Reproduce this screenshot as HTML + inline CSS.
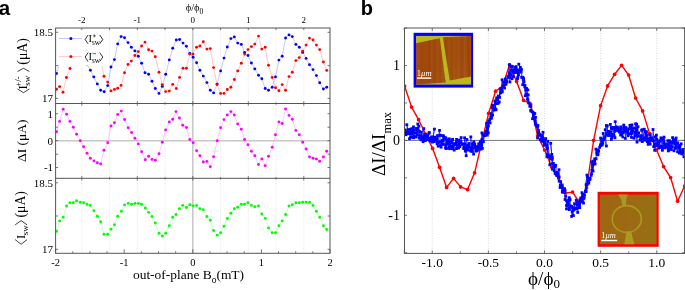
<!DOCTYPE html><html><head><meta charset="utf-8"><style>html,body{margin:0;padding:0;background:#fff;width:685px;height:290px;overflow:hidden}</style></head><body><svg width="685" height="290" viewBox="0 0 685 290" style="display:block;will-change:transform"><rect width="685" height="290" fill="#fff"/><text x="-1.3" y="14.8" style="font-family:'Liberation Sans',sans-serif;font-weight:bold;font-size:20.5px" fill="#000">a</text><text x="360.8" y="14.6" style="font-family:'Liberation Sans',sans-serif;font-weight:bold;font-size:20px" fill="#000">b</text><line x1="81.80000000000001" y1="28.0" x2="81.80000000000001" y2="253.3" stroke="#d4d4d4" stroke-width="0.6" stroke-dasharray="1,1.5"/><line x1="109.55000000000001" y1="28.0" x2="109.55000000000001" y2="253.3" stroke="#d4d4d4" stroke-width="0.6" stroke-dasharray="1,1.5"/><line x1="137.3" y1="28.0" x2="137.3" y2="253.3" stroke="#d4d4d4" stroke-width="0.6" stroke-dasharray="1,1.5"/><line x1="165.05" y1="28.0" x2="165.05" y2="253.3" stroke="#d4d4d4" stroke-width="0.6" stroke-dasharray="1,1.5"/><line x1="192.8" y1="28.0" x2="192.8" y2="253.3" stroke="#c8c8c8" stroke-width="1.6"/><line x1="220.55" y1="28.0" x2="220.55" y2="253.3" stroke="#d4d4d4" stroke-width="0.6" stroke-dasharray="1,1.5"/><line x1="248.3" y1="28.0" x2="248.3" y2="253.3" stroke="#d4d4d4" stroke-width="0.6" stroke-dasharray="1,1.5"/><line x1="276.05" y1="28.0" x2="276.05" y2="253.3" stroke="#d4d4d4" stroke-width="0.6" stroke-dasharray="1,1.5"/><line x1="303.8" y1="28.0" x2="303.8" y2="253.3" stroke="#d4d4d4" stroke-width="0.6" stroke-dasharray="1,1.5"/><line x1="55.6" y1="140.7" x2="330.0" y2="140.7" stroke="#c8c8c8" stroke-width="1.5"/><polyline points="56.5,73.5 59.9,62.4 63.3,50.4 66.7,40.4 70.1,37.4 73.5,40.4 76.9,46.4 80.3,52.4 83.7,58.4 87.1,64.3 90.4,70.2 93.8,76.9 97.3,83.9 100.7,90.3 104.2,91.8 107.7,85.6 111.0,67.0 114.4,59.6 117.7,43.9 121.1,36.6 124.5,37.8 128.0,42.6 131.3,47.2 134.9,50.9 138.3,56.2 141.6,63.2 145.0,72.8 148.6,74.3 152.0,81.3 155.3,88.5 159.0,93.4 162.3,86.4 165.7,74.3 169.3,59.9 172.7,48.2 176.3,40.0 179.6,39.5 183.0,43.1 186.4,46.2 189.8,53.5 193.1,57.2 196.6,62.8 199.9,70.2 203.3,76.1 206.9,82.6 210.3,90.3 213.6,92.9 217.1,84.1 220.6,70.9 224.0,58.1 227.3,47.0 230.9,38.6 234.3,36.9 237.7,43.1 241.3,44.4 244.6,52.4 248.0,55.5 251.4,63.0 254.8,68.9 258.5,75.3 261.8,78.8 265.2,88.5 268.5,90.3 272.2,87.2 275.5,76.9 278.9,60.1 282.2,56.2 285.6,38.0 289.0,34.9 292.3,36.6 295.9,44.4 299.3,47.2 302.7,52.4 306.1,58.4 309.5,64.8 313.0,69.6 316.4,75.6 319.7,82.8 323.4,89.0 326.7,87.2" fill="none" stroke="#9090ff" stroke-width="0.5" stroke-linejoin="round"/><polyline points="56.5,89.2 59.6,86.6 63.0,92.3 66.4,77.5 70.0,68.5 73.5,60.4 76.9,52.4 80.3,47.4 83.7,44.4 87.1,42.4 90.5,46.4 93.9,48.4 97.3,52.4 100.7,60.4 104.0,76.3 107.7,82.1 111.0,90.9 114.4,89.4 117.7,88.3 121.1,85.4 124.5,72.8 128.0,64.5 131.3,61.1 134.9,55.5 138.3,51.6 141.6,46.0 145.0,42.1 148.6,49.8 152.0,51.1 155.3,56.8 159.0,72.2 162.3,84.6 165.7,91.6 169.3,91.1 172.7,84.4 176.3,88.5 179.6,77.4 183.0,68.3 186.4,68.3 189.8,54.1 193.0,54.1 196.6,47.2 199.9,46.0 203.3,41.8 206.9,49.1 210.3,48.6 213.6,67.6 217.0,84.6 220.6,93.4 224.0,93.4 227.3,89.5 230.9,87.2 234.3,79.5 237.7,70.9 241.3,63.2 244.6,54.1 248.0,49.6 251.4,46.6 254.8,44.1 258.5,36.1 261.8,49.1 265.2,47.2 268.5,65.3 272.2,77.4 275.5,87.8 278.9,90.8 282.2,84.6 285.6,90.3 289.0,76.6 292.3,72.2 295.9,60.6 299.3,57.6 302.7,51.1 306.1,45.1 309.5,38.1 313.0,40.0 316.4,45.1 319.7,49.6 323.4,62.0 326.7,70.4" fill="none" stroke="#ff9090" stroke-width="0.5" stroke-linejoin="round"/><circle cx="56.5" cy="73.5" r="1.45" fill="#0000ff"/><circle cx="59.9" cy="62.4" r="1.45" fill="#0000ff"/><circle cx="63.3" cy="50.4" r="1.45" fill="#0000ff"/><circle cx="66.7" cy="40.4" r="1.45" fill="#0000ff"/><circle cx="70.1" cy="37.4" r="1.45" fill="#0000ff"/><circle cx="73.5" cy="40.4" r="1.45" fill="#0000ff"/><circle cx="76.9" cy="46.4" r="1.45" fill="#0000ff"/><circle cx="80.3" cy="52.4" r="1.45" fill="#0000ff"/><circle cx="83.7" cy="58.4" r="1.45" fill="#0000ff"/><circle cx="87.1" cy="64.3" r="1.45" fill="#0000ff"/><circle cx="90.4" cy="70.2" r="1.45" fill="#0000ff"/><circle cx="93.8" cy="76.9" r="1.45" fill="#0000ff"/><circle cx="97.3" cy="83.9" r="1.45" fill="#0000ff"/><circle cx="100.7" cy="90.3" r="1.45" fill="#0000ff"/><circle cx="104.2" cy="91.8" r="1.45" fill="#0000ff"/><circle cx="107.7" cy="85.6" r="1.45" fill="#0000ff"/><circle cx="111.0" cy="67.0" r="1.45" fill="#0000ff"/><circle cx="114.4" cy="59.6" r="1.45" fill="#0000ff"/><circle cx="117.7" cy="43.9" r="1.45" fill="#0000ff"/><circle cx="121.1" cy="36.6" r="1.45" fill="#0000ff"/><circle cx="124.5" cy="37.8" r="1.45" fill="#0000ff"/><circle cx="128.0" cy="42.6" r="1.45" fill="#0000ff"/><circle cx="131.3" cy="47.2" r="1.45" fill="#0000ff"/><circle cx="134.9" cy="50.9" r="1.45" fill="#0000ff"/><circle cx="138.3" cy="56.2" r="1.45" fill="#0000ff"/><circle cx="141.6" cy="63.2" r="1.45" fill="#0000ff"/><circle cx="145.0" cy="72.8" r="1.45" fill="#0000ff"/><circle cx="148.6" cy="74.3" r="1.45" fill="#0000ff"/><circle cx="152.0" cy="81.3" r="1.45" fill="#0000ff"/><circle cx="155.3" cy="88.5" r="1.45" fill="#0000ff"/><circle cx="159.0" cy="93.4" r="1.45" fill="#0000ff"/><circle cx="162.3" cy="86.4" r="1.45" fill="#0000ff"/><circle cx="165.7" cy="74.3" r="1.45" fill="#0000ff"/><circle cx="169.3" cy="59.9" r="1.45" fill="#0000ff"/><circle cx="172.7" cy="48.2" r="1.45" fill="#0000ff"/><circle cx="176.3" cy="40.0" r="1.45" fill="#0000ff"/><circle cx="179.6" cy="39.5" r="1.45" fill="#0000ff"/><circle cx="183.0" cy="43.1" r="1.45" fill="#0000ff"/><circle cx="186.4" cy="46.2" r="1.45" fill="#0000ff"/><circle cx="189.8" cy="53.5" r="1.45" fill="#0000ff"/><circle cx="193.1" cy="57.2" r="1.45" fill="#0000ff"/><circle cx="196.6" cy="62.8" r="1.45" fill="#0000ff"/><circle cx="199.9" cy="70.2" r="1.45" fill="#0000ff"/><circle cx="203.3" cy="76.1" r="1.45" fill="#0000ff"/><circle cx="206.9" cy="82.6" r="1.45" fill="#0000ff"/><circle cx="210.3" cy="90.3" r="1.45" fill="#0000ff"/><circle cx="213.6" cy="92.9" r="1.45" fill="#0000ff"/><circle cx="217.1" cy="84.1" r="1.45" fill="#0000ff"/><circle cx="220.6" cy="70.9" r="1.45" fill="#0000ff"/><circle cx="224.0" cy="58.1" r="1.45" fill="#0000ff"/><circle cx="227.3" cy="47.0" r="1.45" fill="#0000ff"/><circle cx="230.9" cy="38.6" r="1.45" fill="#0000ff"/><circle cx="234.3" cy="36.9" r="1.45" fill="#0000ff"/><circle cx="237.7" cy="43.1" r="1.45" fill="#0000ff"/><circle cx="241.3" cy="44.4" r="1.45" fill="#0000ff"/><circle cx="244.6" cy="52.4" r="1.45" fill="#0000ff"/><circle cx="248.0" cy="55.5" r="1.45" fill="#0000ff"/><circle cx="251.4" cy="63.0" r="1.45" fill="#0000ff"/><circle cx="254.8" cy="68.9" r="1.45" fill="#0000ff"/><circle cx="258.5" cy="75.3" r="1.45" fill="#0000ff"/><circle cx="261.8" cy="78.8" r="1.45" fill="#0000ff"/><circle cx="265.2" cy="88.5" r="1.45" fill="#0000ff"/><circle cx="268.5" cy="90.3" r="1.45" fill="#0000ff"/><circle cx="272.2" cy="87.2" r="1.45" fill="#0000ff"/><circle cx="275.5" cy="76.9" r="1.45" fill="#0000ff"/><circle cx="278.9" cy="60.1" r="1.45" fill="#0000ff"/><circle cx="282.2" cy="56.2" r="1.45" fill="#0000ff"/><circle cx="285.6" cy="38.0" r="1.45" fill="#0000ff"/><circle cx="289.0" cy="34.9" r="1.45" fill="#0000ff"/><circle cx="292.3" cy="36.6" r="1.45" fill="#0000ff"/><circle cx="295.9" cy="44.4" r="1.45" fill="#0000ff"/><circle cx="299.3" cy="47.2" r="1.45" fill="#0000ff"/><circle cx="302.7" cy="52.4" r="1.45" fill="#0000ff"/><circle cx="306.1" cy="58.4" r="1.45" fill="#0000ff"/><circle cx="309.5" cy="64.8" r="1.45" fill="#0000ff"/><circle cx="313.0" cy="69.6" r="1.45" fill="#0000ff"/><circle cx="316.4" cy="75.6" r="1.45" fill="#0000ff"/><circle cx="319.7" cy="82.8" r="1.45" fill="#0000ff"/><circle cx="323.4" cy="89.0" r="1.45" fill="#0000ff"/><circle cx="326.7" cy="87.2" r="1.45" fill="#0000ff"/><circle cx="56.5" cy="89.2" r="1.45" fill="#ff0000"/><circle cx="59.6" cy="86.6" r="1.45" fill="#ff0000"/><circle cx="63.0" cy="92.3" r="1.45" fill="#ff0000"/><circle cx="66.4" cy="77.5" r="1.45" fill="#ff0000"/><circle cx="70.0" cy="68.5" r="1.45" fill="#ff0000"/><circle cx="73.5" cy="60.4" r="1.45" fill="#ff0000"/><circle cx="76.9" cy="52.4" r="1.45" fill="#ff0000"/><circle cx="80.3" cy="47.4" r="1.45" fill="#ff0000"/><circle cx="83.7" cy="44.4" r="1.45" fill="#ff0000"/><circle cx="87.1" cy="42.4" r="1.45" fill="#ff0000"/><circle cx="90.5" cy="46.4" r="1.45" fill="#ff0000"/><circle cx="93.9" cy="48.4" r="1.45" fill="#ff0000"/><circle cx="97.3" cy="52.4" r="1.45" fill="#ff0000"/><circle cx="100.7" cy="60.4" r="1.45" fill="#ff0000"/><circle cx="104.0" cy="76.3" r="1.45" fill="#ff0000"/><circle cx="107.7" cy="82.1" r="1.45" fill="#ff0000"/><circle cx="111.0" cy="90.9" r="1.45" fill="#ff0000"/><circle cx="114.4" cy="89.4" r="1.45" fill="#ff0000"/><circle cx="117.7" cy="88.3" r="1.45" fill="#ff0000"/><circle cx="121.1" cy="85.4" r="1.45" fill="#ff0000"/><circle cx="124.5" cy="72.8" r="1.45" fill="#ff0000"/><circle cx="128.0" cy="64.5" r="1.45" fill="#ff0000"/><circle cx="131.3" cy="61.1" r="1.45" fill="#ff0000"/><circle cx="134.9" cy="55.5" r="1.45" fill="#ff0000"/><circle cx="138.3" cy="51.6" r="1.45" fill="#ff0000"/><circle cx="141.6" cy="46.0" r="1.45" fill="#ff0000"/><circle cx="145.0" cy="42.1" r="1.45" fill="#ff0000"/><circle cx="148.6" cy="49.8" r="1.45" fill="#ff0000"/><circle cx="152.0" cy="51.1" r="1.45" fill="#ff0000"/><circle cx="155.3" cy="56.8" r="1.45" fill="#ff0000"/><circle cx="159.0" cy="72.2" r="1.45" fill="#ff0000"/><circle cx="162.3" cy="84.6" r="1.45" fill="#ff0000"/><circle cx="165.7" cy="91.6" r="1.45" fill="#ff0000"/><circle cx="169.3" cy="91.1" r="1.45" fill="#ff0000"/><circle cx="172.7" cy="84.4" r="1.45" fill="#ff0000"/><circle cx="176.3" cy="88.5" r="1.45" fill="#ff0000"/><circle cx="179.6" cy="77.4" r="1.45" fill="#ff0000"/><circle cx="183.0" cy="68.3" r="1.45" fill="#ff0000"/><circle cx="186.4" cy="68.3" r="1.45" fill="#ff0000"/><circle cx="189.8" cy="54.1" r="1.45" fill="#ff0000"/><circle cx="193.0" cy="54.1" r="1.45" fill="#ff0000"/><circle cx="196.6" cy="47.2" r="1.45" fill="#ff0000"/><circle cx="199.9" cy="46.0" r="1.45" fill="#ff0000"/><circle cx="203.3" cy="41.8" r="1.45" fill="#ff0000"/><circle cx="206.9" cy="49.1" r="1.45" fill="#ff0000"/><circle cx="210.3" cy="48.6" r="1.45" fill="#ff0000"/><circle cx="213.6" cy="67.6" r="1.45" fill="#ff0000"/><circle cx="217.0" cy="84.6" r="1.45" fill="#ff0000"/><circle cx="220.6" cy="93.4" r="1.45" fill="#ff0000"/><circle cx="224.0" cy="93.4" r="1.45" fill="#ff0000"/><circle cx="227.3" cy="89.5" r="1.45" fill="#ff0000"/><circle cx="230.9" cy="87.2" r="1.45" fill="#ff0000"/><circle cx="234.3" cy="79.5" r="1.45" fill="#ff0000"/><circle cx="237.7" cy="70.9" r="1.45" fill="#ff0000"/><circle cx="241.3" cy="63.2" r="1.45" fill="#ff0000"/><circle cx="244.6" cy="54.1" r="1.45" fill="#ff0000"/><circle cx="248.0" cy="49.6" r="1.45" fill="#ff0000"/><circle cx="251.4" cy="46.6" r="1.45" fill="#ff0000"/><circle cx="254.8" cy="44.1" r="1.45" fill="#ff0000"/><circle cx="258.5" cy="36.1" r="1.45" fill="#ff0000"/><circle cx="261.8" cy="49.1" r="1.45" fill="#ff0000"/><circle cx="265.2" cy="47.2" r="1.45" fill="#ff0000"/><circle cx="268.5" cy="65.3" r="1.45" fill="#ff0000"/><circle cx="272.2" cy="77.4" r="1.45" fill="#ff0000"/><circle cx="275.5" cy="87.8" r="1.45" fill="#ff0000"/><circle cx="278.9" cy="90.8" r="1.45" fill="#ff0000"/><circle cx="282.2" cy="84.6" r="1.45" fill="#ff0000"/><circle cx="285.6" cy="90.3" r="1.45" fill="#ff0000"/><circle cx="289.0" cy="76.6" r="1.45" fill="#ff0000"/><circle cx="292.3" cy="72.2" r="1.45" fill="#ff0000"/><circle cx="295.9" cy="60.6" r="1.45" fill="#ff0000"/><circle cx="299.3" cy="57.6" r="1.45" fill="#ff0000"/><circle cx="302.7" cy="51.1" r="1.45" fill="#ff0000"/><circle cx="306.1" cy="45.1" r="1.45" fill="#ff0000"/><circle cx="309.5" cy="38.1" r="1.45" fill="#ff0000"/><circle cx="313.0" cy="40.0" r="1.45" fill="#ff0000"/><circle cx="316.4" cy="45.1" r="1.45" fill="#ff0000"/><circle cx="319.7" cy="49.6" r="1.45" fill="#ff0000"/><circle cx="323.4" cy="62.0" r="1.45" fill="#ff0000"/><circle cx="326.7" cy="70.4" r="1.45" fill="#ff0000"/><polyline points="56.5,131.8 59.6,121.4 63.2,109.2 66.6,114.2 69.9,121.4 73.3,127.3 76.6,134.3 80.3,140.8 83.6,146.8 87.0,153.2 90.3,158.3 94.0,160.9 97.3,162.8 100.7,164.0 104.0,150.3 107.7,142.7 111.0,126.0 114.4,122.8 117.7,114.4 121.3,111.1 124.6,119.5 128.2,127.8 131.6,132.5 134.9,138.2 138.3,143.9 141.6,151.7 145.3,159.7 148.6,156.3 152.0,159.4 155.3,160.2 159.0,153.8 162.3,142.2 165.7,129.9 169.3,121.9 172.7,119.3 176.0,111.6 179.4,118.0 182.7,125.3 186.4,127.5 189.8,139.5 193.2,142.8 196.6,150.7 199.9,155.8 203.3,162.0 206.9,161.4 210.3,166.7 213.6,156.8 217.2,140.8 220.6,127.8 224.0,119.6 227.3,114.9 230.9,111.6 234.3,114.9 237.7,124.0 241.3,129.2 244.6,139.5 248.0,144.7 251.4,151.2 254.8,155.8 258.5,164.5 261.8,158.9 265.2,165.8 268.5,156.3 272.2,147.2 275.5,134.8 278.9,121.9 282.2,123.5 285.6,109.0 289.0,115.4 292.3,119.3 295.9,130.4 299.3,134.8 302.7,142.2 306.1,149.0 309.5,157.0 313.0,158.3 316.4,158.9 319.7,161.2 323.4,157.0 326.7,151.2" fill="none" stroke="#ff90ff" stroke-width="0.5" stroke-linejoin="round"/><circle cx="56.5" cy="131.8" r="1.45" fill="#ff00ff"/><circle cx="59.6" cy="121.4" r="1.45" fill="#ff00ff"/><circle cx="63.2" cy="109.2" r="1.45" fill="#ff00ff"/><circle cx="66.6" cy="114.2" r="1.45" fill="#ff00ff"/><circle cx="69.9" cy="121.4" r="1.45" fill="#ff00ff"/><circle cx="73.3" cy="127.3" r="1.45" fill="#ff00ff"/><circle cx="76.6" cy="134.3" r="1.45" fill="#ff00ff"/><circle cx="80.3" cy="140.8" r="1.45" fill="#ff00ff"/><circle cx="83.6" cy="146.8" r="1.45" fill="#ff00ff"/><circle cx="87.0" cy="153.2" r="1.45" fill="#ff00ff"/><circle cx="90.3" cy="158.3" r="1.45" fill="#ff00ff"/><circle cx="94.0" cy="160.9" r="1.45" fill="#ff00ff"/><circle cx="97.3" cy="162.8" r="1.45" fill="#ff00ff"/><circle cx="100.7" cy="164.0" r="1.45" fill="#ff00ff"/><circle cx="104.0" cy="150.3" r="1.45" fill="#ff00ff"/><circle cx="107.7" cy="142.7" r="1.45" fill="#ff00ff"/><circle cx="111.0" cy="126.0" r="1.45" fill="#ff00ff"/><circle cx="114.4" cy="122.8" r="1.45" fill="#ff00ff"/><circle cx="117.7" cy="114.4" r="1.45" fill="#ff00ff"/><circle cx="121.3" cy="111.1" r="1.45" fill="#ff00ff"/><circle cx="124.6" cy="119.5" r="1.45" fill="#ff00ff"/><circle cx="128.2" cy="127.8" r="1.45" fill="#ff00ff"/><circle cx="131.6" cy="132.5" r="1.45" fill="#ff00ff"/><circle cx="134.9" cy="138.2" r="1.45" fill="#ff00ff"/><circle cx="138.3" cy="143.9" r="1.45" fill="#ff00ff"/><circle cx="141.6" cy="151.7" r="1.45" fill="#ff00ff"/><circle cx="145.3" cy="159.7" r="1.45" fill="#ff00ff"/><circle cx="148.6" cy="156.3" r="1.45" fill="#ff00ff"/><circle cx="152.0" cy="159.4" r="1.45" fill="#ff00ff"/><circle cx="155.3" cy="160.2" r="1.45" fill="#ff00ff"/><circle cx="159.0" cy="153.8" r="1.45" fill="#ff00ff"/><circle cx="162.3" cy="142.2" r="1.45" fill="#ff00ff"/><circle cx="165.7" cy="129.9" r="1.45" fill="#ff00ff"/><circle cx="169.3" cy="121.9" r="1.45" fill="#ff00ff"/><circle cx="172.7" cy="119.3" r="1.45" fill="#ff00ff"/><circle cx="176.0" cy="111.6" r="1.45" fill="#ff00ff"/><circle cx="179.4" cy="118.0" r="1.45" fill="#ff00ff"/><circle cx="182.7" cy="125.3" r="1.45" fill="#ff00ff"/><circle cx="186.4" cy="127.5" r="1.45" fill="#ff00ff"/><circle cx="189.8" cy="139.5" r="1.45" fill="#ff00ff"/><circle cx="193.2" cy="142.8" r="1.45" fill="#ff00ff"/><circle cx="196.6" cy="150.7" r="1.45" fill="#ff00ff"/><circle cx="199.9" cy="155.8" r="1.45" fill="#ff00ff"/><circle cx="203.3" cy="162.0" r="1.45" fill="#ff00ff"/><circle cx="206.9" cy="161.4" r="1.45" fill="#ff00ff"/><circle cx="210.3" cy="166.7" r="1.45" fill="#ff00ff"/><circle cx="213.6" cy="156.8" r="1.45" fill="#ff00ff"/><circle cx="217.2" cy="140.8" r="1.45" fill="#ff00ff"/><circle cx="220.6" cy="127.8" r="1.45" fill="#ff00ff"/><circle cx="224.0" cy="119.6" r="1.45" fill="#ff00ff"/><circle cx="227.3" cy="114.9" r="1.45" fill="#ff00ff"/><circle cx="230.9" cy="111.6" r="1.45" fill="#ff00ff"/><circle cx="234.3" cy="114.9" r="1.45" fill="#ff00ff"/><circle cx="237.7" cy="124.0" r="1.45" fill="#ff00ff"/><circle cx="241.3" cy="129.2" r="1.45" fill="#ff00ff"/><circle cx="244.6" cy="139.5" r="1.45" fill="#ff00ff"/><circle cx="248.0" cy="144.7" r="1.45" fill="#ff00ff"/><circle cx="251.4" cy="151.2" r="1.45" fill="#ff00ff"/><circle cx="254.8" cy="155.8" r="1.45" fill="#ff00ff"/><circle cx="258.5" cy="164.5" r="1.45" fill="#ff00ff"/><circle cx="261.8" cy="158.9" r="1.45" fill="#ff00ff"/><circle cx="265.2" cy="165.8" r="1.45" fill="#ff00ff"/><circle cx="268.5" cy="156.3" r="1.45" fill="#ff00ff"/><circle cx="272.2" cy="147.2" r="1.45" fill="#ff00ff"/><circle cx="275.5" cy="134.8" r="1.45" fill="#ff00ff"/><circle cx="278.9" cy="121.9" r="1.45" fill="#ff00ff"/><circle cx="282.2" cy="123.5" r="1.45" fill="#ff00ff"/><circle cx="285.6" cy="109.0" r="1.45" fill="#ff00ff"/><circle cx="289.0" cy="115.4" r="1.45" fill="#ff00ff"/><circle cx="292.3" cy="119.3" r="1.45" fill="#ff00ff"/><circle cx="295.9" cy="130.4" r="1.45" fill="#ff00ff"/><circle cx="299.3" cy="134.8" r="1.45" fill="#ff00ff"/><circle cx="302.7" cy="142.2" r="1.45" fill="#ff00ff"/><circle cx="306.1" cy="149.0" r="1.45" fill="#ff00ff"/><circle cx="309.5" cy="157.0" r="1.45" fill="#ff00ff"/><circle cx="313.0" cy="158.3" r="1.45" fill="#ff00ff"/><circle cx="316.4" cy="158.9" r="1.45" fill="#ff00ff"/><circle cx="319.7" cy="161.2" r="1.45" fill="#ff00ff"/><circle cx="323.4" cy="157.0" r="1.45" fill="#ff00ff"/><circle cx="326.7" cy="151.2" r="1.45" fill="#ff00ff"/><polyline points="56.5,231.3 59.6,220.9 63.2,217.2 66.6,205.9 69.9,202.8 73.3,202.8 76.6,200.8 80.3,202.3 83.6,202.8 87.0,204.2 90.3,205.4 94.0,210.7 97.3,216.3 100.7,221.8 104.0,234.2 107.7,234.2 111.0,229.2 114.4,224.8 117.7,216.3 121.4,211.2 124.6,204.9 128.2,203.4 131.6,204.2 134.9,203.4 138.3,203.4 141.6,204.2 145.3,208.0 148.6,212.4 152.0,216.5 155.3,223.0 159.0,233.2 162.3,235.9 165.7,233.2 169.3,225.7 172.7,217.2 176.0,214.5 179.4,208.8 182.7,205.4 186.4,207.5 189.8,204.8 193.2,205.9 196.6,205.4 199.9,208.8 203.3,209.8 206.9,216.5 210.3,220.2 213.6,230.5 217.2,235.2 220.6,232.7 224.0,226.2 227.3,218.4 230.9,213.2 234.3,208.8 237.7,207.2 241.3,204.2 244.6,204.2 248.0,202.8 251.4,205.4 254.8,206.8 258.5,205.9 261.8,214.0 265.2,218.4 268.5,227.9 272.2,232.7 275.5,232.7 278.9,225.7 282.2,220.9 285.6,214.5 289.0,205.9 292.3,204.8 295.9,202.8 299.3,202.8 302.7,202.2 306.1,202.2 309.5,202.2 313.0,205.4 316.4,211.2 319.7,217.2 323.4,225.7 326.7,229.5" fill="none" stroke="#90ff90" stroke-width="0.5" stroke-linejoin="round"/><circle cx="56.5" cy="231.3" r="1.45" fill="#00ff00"/><circle cx="59.6" cy="220.9" r="1.45" fill="#00ff00"/><circle cx="63.2" cy="217.2" r="1.45" fill="#00ff00"/><circle cx="66.6" cy="205.9" r="1.45" fill="#00ff00"/><circle cx="69.9" cy="202.8" r="1.45" fill="#00ff00"/><circle cx="73.3" cy="202.8" r="1.45" fill="#00ff00"/><circle cx="76.6" cy="200.8" r="1.45" fill="#00ff00"/><circle cx="80.3" cy="202.3" r="1.45" fill="#00ff00"/><circle cx="83.6" cy="202.8" r="1.45" fill="#00ff00"/><circle cx="87.0" cy="204.2" r="1.45" fill="#00ff00"/><circle cx="90.3" cy="205.4" r="1.45" fill="#00ff00"/><circle cx="94.0" cy="210.7" r="1.45" fill="#00ff00"/><circle cx="97.3" cy="216.3" r="1.45" fill="#00ff00"/><circle cx="100.7" cy="221.8" r="1.45" fill="#00ff00"/><circle cx="104.0" cy="234.2" r="1.45" fill="#00ff00"/><circle cx="107.7" cy="234.2" r="1.45" fill="#00ff00"/><circle cx="111.0" cy="229.2" r="1.45" fill="#00ff00"/><circle cx="114.4" cy="224.8" r="1.45" fill="#00ff00"/><circle cx="117.7" cy="216.3" r="1.45" fill="#00ff00"/><circle cx="121.4" cy="211.2" r="1.45" fill="#00ff00"/><circle cx="124.6" cy="204.9" r="1.45" fill="#00ff00"/><circle cx="128.2" cy="203.4" r="1.45" fill="#00ff00"/><circle cx="131.6" cy="204.2" r="1.45" fill="#00ff00"/><circle cx="134.9" cy="203.4" r="1.45" fill="#00ff00"/><circle cx="138.3" cy="203.4" r="1.45" fill="#00ff00"/><circle cx="141.6" cy="204.2" r="1.45" fill="#00ff00"/><circle cx="145.3" cy="208.0" r="1.45" fill="#00ff00"/><circle cx="148.6" cy="212.4" r="1.45" fill="#00ff00"/><circle cx="152.0" cy="216.5" r="1.45" fill="#00ff00"/><circle cx="155.3" cy="223.0" r="1.45" fill="#00ff00"/><circle cx="159.0" cy="233.2" r="1.45" fill="#00ff00"/><circle cx="162.3" cy="235.9" r="1.45" fill="#00ff00"/><circle cx="165.7" cy="233.2" r="1.45" fill="#00ff00"/><circle cx="169.3" cy="225.7" r="1.45" fill="#00ff00"/><circle cx="172.7" cy="217.2" r="1.45" fill="#00ff00"/><circle cx="176.0" cy="214.5" r="1.45" fill="#00ff00"/><circle cx="179.4" cy="208.8" r="1.45" fill="#00ff00"/><circle cx="182.7" cy="205.4" r="1.45" fill="#00ff00"/><circle cx="186.4" cy="207.5" r="1.45" fill="#00ff00"/><circle cx="189.8" cy="204.8" r="1.45" fill="#00ff00"/><circle cx="193.2" cy="205.9" r="1.45" fill="#00ff00"/><circle cx="196.6" cy="205.4" r="1.45" fill="#00ff00"/><circle cx="199.9" cy="208.8" r="1.45" fill="#00ff00"/><circle cx="203.3" cy="209.8" r="1.45" fill="#00ff00"/><circle cx="206.9" cy="216.5" r="1.45" fill="#00ff00"/><circle cx="210.3" cy="220.2" r="1.45" fill="#00ff00"/><circle cx="213.6" cy="230.5" r="1.45" fill="#00ff00"/><circle cx="217.2" cy="235.2" r="1.45" fill="#00ff00"/><circle cx="220.6" cy="232.7" r="1.45" fill="#00ff00"/><circle cx="224.0" cy="226.2" r="1.45" fill="#00ff00"/><circle cx="227.3" cy="218.4" r="1.45" fill="#00ff00"/><circle cx="230.9" cy="213.2" r="1.45" fill="#00ff00"/><circle cx="234.3" cy="208.8" r="1.45" fill="#00ff00"/><circle cx="237.7" cy="207.2" r="1.45" fill="#00ff00"/><circle cx="241.3" cy="204.2" r="1.45" fill="#00ff00"/><circle cx="244.6" cy="204.2" r="1.45" fill="#00ff00"/><circle cx="248.0" cy="202.8" r="1.45" fill="#00ff00"/><circle cx="251.4" cy="205.4" r="1.45" fill="#00ff00"/><circle cx="254.8" cy="206.8" r="1.45" fill="#00ff00"/><circle cx="258.5" cy="205.9" r="1.45" fill="#00ff00"/><circle cx="261.8" cy="214.0" r="1.45" fill="#00ff00"/><circle cx="265.2" cy="218.4" r="1.45" fill="#00ff00"/><circle cx="268.5" cy="227.9" r="1.45" fill="#00ff00"/><circle cx="272.2" cy="232.7" r="1.45" fill="#00ff00"/><circle cx="275.5" cy="232.7" r="1.45" fill="#00ff00"/><circle cx="278.9" cy="225.7" r="1.45" fill="#00ff00"/><circle cx="282.2" cy="220.9" r="1.45" fill="#00ff00"/><circle cx="285.6" cy="214.5" r="1.45" fill="#00ff00"/><circle cx="289.0" cy="205.9" r="1.45" fill="#00ff00"/><circle cx="292.3" cy="204.8" r="1.45" fill="#00ff00"/><circle cx="295.9" cy="202.8" r="1.45" fill="#00ff00"/><circle cx="299.3" cy="202.8" r="1.45" fill="#00ff00"/><circle cx="302.7" cy="202.2" r="1.45" fill="#00ff00"/><circle cx="306.1" cy="202.2" r="1.45" fill="#00ff00"/><circle cx="309.5" cy="202.2" r="1.45" fill="#00ff00"/><circle cx="313.0" cy="205.4" r="1.45" fill="#00ff00"/><circle cx="316.4" cy="211.2" r="1.45" fill="#00ff00"/><circle cx="319.7" cy="217.2" r="1.45" fill="#00ff00"/><circle cx="323.4" cy="225.7" r="1.45" fill="#00ff00"/><circle cx="326.7" cy="229.5" r="1.45" fill="#00ff00"/><rect x="56.2" y="28.6" width="48" height="37" fill="#fff"/><line x1="59" y1="38.5" x2="82" y2="38.5" stroke="#a0a0ff" stroke-width="0.6"/><circle cx="70.9" cy="38.5" r="1.5" fill="#0000ff"/><line x1="59" y1="56.6" x2="82" y2="56.6" stroke="#ffa0a0" stroke-width="0.6"/><circle cx="70.9" cy="56.6" r="1.5" fill="#ff0000"/><path d="M88.1,35.0 L85.1,39.45 L88.1,43.9" fill="none" stroke="#000" stroke-width="0.8"/><text x="88.4" y="41.9" style="font-family:'Liberation Serif',serif;font-size:10.5px" fill="#000">I</text><text x="91.9" y="45.3" style="font-family:'Liberation Serif',serif;font-size:7.2px" fill="#000">sw</text><path d="M92.7,35.9 H95.9 M94.3,34.3 V37.5" stroke="#000" stroke-width="0.55"/><path d="M99.7,35.0 L102.8,39.45 L99.7,43.9" fill="none" stroke="#000" stroke-width="0.8"/><path d="M88.1,52.6 L85.1,57.05 L88.1,61.5" fill="none" stroke="#000" stroke-width="0.8"/><text x="88.4" y="59.5" style="font-family:'Liberation Serif',serif;font-size:10.5px" fill="#000">I</text><text x="91.9" y="62.9" style="font-family:'Liberation Serif',serif;font-size:7.2px" fill="#000">sw</text><path d="M92.5,53.7 H96" stroke="#000" stroke-width="0.6"/><path d="M99.7,52.6 L102.8,57.05 L99.7,61.5" fill="none" stroke="#000" stroke-width="0.8"/><rect x="55.6" y="28.0" width="274.4" height="225.3" fill="none" stroke="#555" stroke-width="1"/><line x1="55.6" y1="103.5" x2="330.0" y2="103.5" stroke="#555" stroke-width="1"/><line x1="55.6" y1="178.3" x2="330.0" y2="178.3" stroke="#555" stroke-width="1"/><line x1="81.80000000000001" y1="28.0" x2="81.80000000000001" y2="30.0" stroke="#555" stroke-width="0.8"/><line x1="109.55000000000001" y1="28.0" x2="109.55000000000001" y2="30.0" stroke="#555" stroke-width="0.8"/><line x1="137.3" y1="28.0" x2="137.3" y2="30.0" stroke="#555" stroke-width="0.8"/><line x1="165.05" y1="28.0" x2="165.05" y2="30.0" stroke="#555" stroke-width="0.8"/><line x1="192.8" y1="28.0" x2="192.8" y2="30.0" stroke="#555" stroke-width="0.8"/><line x1="220.55" y1="28.0" x2="220.55" y2="30.0" stroke="#555" stroke-width="0.8"/><line x1="248.3" y1="28.0" x2="248.3" y2="30.0" stroke="#555" stroke-width="0.8"/><line x1="276.05" y1="28.0" x2="276.05" y2="30.0" stroke="#555" stroke-width="0.8"/><line x1="303.8" y1="28.0" x2="303.8" y2="30.0" stroke="#555" stroke-width="0.8"/><text x="81.80000000000001" y="23" text-anchor="middle" style="font-family:'Liberation Serif',serif;font-size:9px" fill="#000">-2</text><text x="137.3" y="23" text-anchor="middle" style="font-family:'Liberation Serif',serif;font-size:9px" fill="#000">-1</text><text x="192.8" y="23" text-anchor="middle" style="font-family:'Liberation Serif',serif;font-size:9px" fill="#000">0</text><text x="248.3" y="23" text-anchor="middle" style="font-family:'Liberation Serif',serif;font-size:9px" fill="#000">1</text><text x="303.8" y="23" text-anchor="middle" style="font-family:'Liberation Serif',serif;font-size:9px" fill="#000">2</text><line x1="55.6" y1="253.3" x2="55.6" y2="249.3" stroke="#555" stroke-width="0.8"/><line x1="72.75" y1="253.3" x2="72.75" y2="251.3" stroke="#555" stroke-width="0.8"/><line x1="89.9" y1="253.3" x2="89.9" y2="251.3" stroke="#555" stroke-width="0.8"/><line x1="107.05" y1="253.3" x2="107.05" y2="251.3" stroke="#555" stroke-width="0.8"/><line x1="124.19999999999999" y1="253.3" x2="124.19999999999999" y2="249.3" stroke="#555" stroke-width="0.8"/><line x1="141.35" y1="253.3" x2="141.35" y2="251.3" stroke="#555" stroke-width="0.8"/><line x1="158.5" y1="253.3" x2="158.5" y2="251.3" stroke="#555" stroke-width="0.8"/><line x1="175.64999999999998" y1="253.3" x2="175.64999999999998" y2="251.3" stroke="#555" stroke-width="0.8"/><line x1="192.79999999999998" y1="253.3" x2="192.79999999999998" y2="249.3" stroke="#555" stroke-width="0.8"/><line x1="209.95" y1="253.3" x2="209.95" y2="251.3" stroke="#555" stroke-width="0.8"/><line x1="227.1" y1="253.3" x2="227.1" y2="251.3" stroke="#555" stroke-width="0.8"/><line x1="244.24999999999997" y1="253.3" x2="244.24999999999997" y2="251.3" stroke="#555" stroke-width="0.8"/><line x1="261.4" y1="253.3" x2="261.4" y2="249.3" stroke="#555" stroke-width="0.8"/><line x1="278.55" y1="253.3" x2="278.55" y2="251.3" stroke="#555" stroke-width="0.8"/><line x1="295.7" y1="253.3" x2="295.7" y2="251.3" stroke="#555" stroke-width="0.8"/><line x1="312.85" y1="253.3" x2="312.85" y2="251.3" stroke="#555" stroke-width="0.8"/><line x1="330.0" y1="253.3" x2="330.0" y2="249.3" stroke="#555" stroke-width="0.8"/><line x1="81.80000000000001" y1="101.3" x2="81.80000000000001" y2="105.7" stroke="#555" stroke-width="0.8"/><line x1="81.80000000000001" y1="176.10000000000002" x2="81.80000000000001" y2="180.5" stroke="#555" stroke-width="0.8"/><line x1="109.55000000000001" y1="102.3" x2="109.55000000000001" y2="104.7" stroke="#555" stroke-width="0.8"/><line x1="109.55000000000001" y1="177.10000000000002" x2="109.55000000000001" y2="179.5" stroke="#555" stroke-width="0.8"/><line x1="137.3" y1="101.3" x2="137.3" y2="105.7" stroke="#555" stroke-width="0.8"/><line x1="137.3" y1="176.10000000000002" x2="137.3" y2="180.5" stroke="#555" stroke-width="0.8"/><line x1="165.05" y1="102.3" x2="165.05" y2="104.7" stroke="#555" stroke-width="0.8"/><line x1="165.05" y1="177.10000000000002" x2="165.05" y2="179.5" stroke="#555" stroke-width="0.8"/><line x1="192.8" y1="101.3" x2="192.8" y2="105.7" stroke="#555" stroke-width="0.8"/><line x1="192.8" y1="176.10000000000002" x2="192.8" y2="180.5" stroke="#555" stroke-width="0.8"/><line x1="220.55" y1="102.3" x2="220.55" y2="104.7" stroke="#555" stroke-width="0.8"/><line x1="220.55" y1="177.10000000000002" x2="220.55" y2="179.5" stroke="#555" stroke-width="0.8"/><line x1="248.3" y1="101.3" x2="248.3" y2="105.7" stroke="#555" stroke-width="0.8"/><line x1="248.3" y1="176.10000000000002" x2="248.3" y2="180.5" stroke="#555" stroke-width="0.8"/><line x1="276.05" y1="102.3" x2="276.05" y2="104.7" stroke="#555" stroke-width="0.8"/><line x1="276.05" y1="177.10000000000002" x2="276.05" y2="179.5" stroke="#555" stroke-width="0.8"/><line x1="303.8" y1="101.3" x2="303.8" y2="105.7" stroke="#555" stroke-width="0.8"/><line x1="303.8" y1="176.10000000000002" x2="303.8" y2="180.5" stroke="#555" stroke-width="0.8"/><text x="55.6" y="265.8" text-anchor="middle" style="font-family:'Liberation Serif',serif;font-size:10.5px" fill="#000">-2</text><text x="124.19999999999999" y="265.8" text-anchor="middle" style="font-family:'Liberation Serif',serif;font-size:10.5px" fill="#000">-1</text><text x="192.79999999999998" y="265.8" text-anchor="middle" style="font-family:'Liberation Serif',serif;font-size:10.5px" fill="#000">0</text><text x="261.4" y="265.8" text-anchor="middle" style="font-family:'Liberation Serif',serif;font-size:10.5px" fill="#000">1</text><text x="330.0" y="265.8" text-anchor="middle" style="font-family:'Liberation Serif',serif;font-size:10.5px" fill="#000">2</text><line x1="55.6" y1="32.3" x2="58.1" y2="32.3" stroke="#555" stroke-width="0.8"/><line x1="330.0" y1="32.3" x2="327.5" y2="32.3" stroke="#555" stroke-width="0.8"/><line x1="55.6" y1="65.6" x2="58.1" y2="65.6" stroke="#555" stroke-width="0.8"/><line x1="330.0" y1="65.6" x2="327.5" y2="65.6" stroke="#555" stroke-width="0.8"/><line x1="55.6" y1="98.4" x2="58.1" y2="98.4" stroke="#555" stroke-width="0.8"/><line x1="330.0" y1="98.4" x2="327.5" y2="98.4" stroke="#555" stroke-width="0.8"/><line x1="55.6" y1="113.7" x2="58.1" y2="113.7" stroke="#555" stroke-width="0.8"/><line x1="330.0" y1="113.7" x2="327.5" y2="113.7" stroke="#555" stroke-width="0.8"/><line x1="55.6" y1="127.2" x2="58.1" y2="127.2" stroke="#555" stroke-width="0.8"/><line x1="330.0" y1="127.2" x2="327.5" y2="127.2" stroke="#555" stroke-width="0.8"/><line x1="55.6" y1="140.7" x2="58.1" y2="140.7" stroke="#555" stroke-width="0.8"/><line x1="330.0" y1="140.7" x2="327.5" y2="140.7" stroke="#555" stroke-width="0.8"/><line x1="55.6" y1="154.2" x2="58.1" y2="154.2" stroke="#555" stroke-width="0.8"/><line x1="330.0" y1="154.2" x2="327.5" y2="154.2" stroke="#555" stroke-width="0.8"/><line x1="55.6" y1="167.5" x2="58.1" y2="167.5" stroke="#555" stroke-width="0.8"/><line x1="330.0" y1="167.5" x2="327.5" y2="167.5" stroke="#555" stroke-width="0.8"/><line x1="55.6" y1="182.8" x2="58.1" y2="182.8" stroke="#555" stroke-width="0.8"/><line x1="330.0" y1="182.8" x2="327.5" y2="182.8" stroke="#555" stroke-width="0.8"/><line x1="55.6" y1="216.0" x2="58.1" y2="216.0" stroke="#555" stroke-width="0.8"/><line x1="330.0" y1="216.0" x2="327.5" y2="216.0" stroke="#555" stroke-width="0.8"/><line x1="55.6" y1="249.3" x2="58.1" y2="249.3" stroke="#555" stroke-width="0.8"/><line x1="330.0" y1="249.3" x2="327.5" y2="249.3" stroke="#555" stroke-width="0.8"/><text x="53.1" y="36.099999999999994" text-anchor="end" style="font-family:'Liberation Serif',serif;font-size:11px" fill="#000">18.5</text><text x="53.1" y="102.2" text-anchor="end" style="font-family:'Liberation Serif',serif;font-size:11px" fill="#000">17</text><text x="53.1" y="117.5" text-anchor="end" style="font-family:'Liberation Serif',serif;font-size:11px" fill="#000">1</text><text x="53.1" y="144.5" text-anchor="end" style="font-family:'Liberation Serif',serif;font-size:11px" fill="#000">0</text><text x="53.1" y="171.3" text-anchor="end" style="font-family:'Liberation Serif',serif;font-size:11px" fill="#000">-1</text><text x="53.1" y="186.60000000000002" text-anchor="end" style="font-family:'Liberation Serif',serif;font-size:11px" fill="#000">18.5</text><text x="53.1" y="253.10000000000002" text-anchor="end" style="font-family:'Liberation Serif',serif;font-size:11px" fill="#000">17</text><text x="194.5" y="11" text-anchor="middle" style="font-family:'Liberation Serif',serif;font-size:10.5px" fill="#000">&#x3d5;/&#x3d5;<tspan dy="2.5" font-size="7.5px">0</tspan></text><text x="188.5" y="279.2" text-anchor="middle" style="font-family:'Liberation Serif',serif;font-size:13.45px" fill="#000">out-of-plane B<tspan dy="3.8" font-size="9.5px">o</tspan><tspan dy="-3.8">(mT)</tspan></text><g transform="translate(25.6,162) rotate(-90)"><text x="0" y="0" style="font-family:'Liberation Serif',serif;font-size:13.5px" fill="#000">&#x394;I (&#x3bc;A)</text></g><g transform="translate(26.9,92.7) rotate(-90)"><path d="M3.8,-9.4 L0,-3.45 L3.8,2.5" fill="none" stroke="#000" stroke-width="0.75"/><text x="3.3" y="0" style="font-family:'Liberation Serif',serif;font-size:13px" fill="#000">I</text><text x="6.9" y="3.2" style="font-family:'Liberation Serif',serif;font-size:9px" fill="#000">sw</text><text x="6.0" y="-6.3" style="font-family:'Liberation Serif',serif;font-size:8.8px" fill="#000">+/-</text><path d="M21.2,-9.4 L24.4,-3.45 L21.2,2.5" fill="none" stroke="#000" stroke-width="0.75"/><text x="28.0" y="0" style="font-family:'Liberation Serif',serif;font-size:13.8px" fill="#000">(&#x3bc;A)</text></g><g transform="translate(24.7,244.2) rotate(-90)"><path d="M4.6,-9.6 L0,-3.5999999999999996 L4.6,2.4" fill="none" stroke="#000" stroke-width="0.75"/><text x="5.2" y="0" style="font-family:'Liberation Serif',serif;font-size:13px" fill="#000">I</text><text x="9.0" y="3.6" style="font-family:'Liberation Serif',serif;font-size:9px" fill="#000">sw</text><path d="M19.3,-9.6 L23.6,-3.5999999999999996 L19.3,2.4" fill="none" stroke="#000" stroke-width="0.75"/><text x="26.6" y="0" style="font-family:'Liberation Serif',serif;font-size:13.8px" fill="#000">(&#x3bc;A)</text></g><line x1="432.25" y1="28.0" x2="432.25" y2="253.4" stroke="#c4c4c4" stroke-width="0.6" stroke-dasharray="1,1.5"/><line x1="488.375" y1="28.0" x2="488.375" y2="253.4" stroke="#c4c4c4" stroke-width="0.6" stroke-dasharray="1,1.5"/><line x1="544.5" y1="28.0" x2="544.5" y2="253.4" stroke="#c4c4c4" stroke-width="0.6" stroke-dasharray="1,1.5"/><line x1="600.625" y1="28.0" x2="600.625" y2="253.4" stroke="#c4c4c4" stroke-width="0.6" stroke-dasharray="1,1.5"/><line x1="656.75" y1="28.0" x2="656.75" y2="253.4" stroke="#c4c4c4" stroke-width="0.6" stroke-dasharray="1,1.5"/><line x1="404.5" y1="140.4" x2="684.6" y2="140.4" stroke="#666" stroke-width="0.9"/><svg x="404.5" y="28.0" width="280.1" height="225.4" viewBox="404.5 28.0 280.1 225.4" overflow="hidden"><polyline points="404.6,86.0 411.6,107.1 418.6,119.7 425.6,134.0 432.6,148.4 439.6,167.3 446.6,187.4 453.6,178.4 460.6,186.9 467.6,189.6 474.6,172.8 481.6,143.0 488.6,113.3 495.6,91.2 502.6,86.0 509.6,64.8 516.6,81.5 523.6,100.3 530.6,104.0 537.6,136.0 544.6,150.0 551.6,167.0 558.6,178.0 565.6,193.0 572.6,192.1 579.6,203.0 586.6,188.0 593.6,140.3 600.6,105.7 607.6,85.9 614.6,74.3 621.6,65.4 628.6,75.0 635.6,98.0 642.6,110.9 649.6,133.6 656.6,150.0 663.6,166.6 670.6,177.5 677.6,201.2 684.6,186.0" fill="none" stroke="#ff0000" stroke-width="1.4" stroke-linejoin="round"/><circle cx="404.6" cy="86.0" r="1.85" fill="#ff0000"/><circle cx="411.6" cy="107.1" r="1.85" fill="#ff0000"/><circle cx="418.6" cy="119.7" r="1.85" fill="#ff0000"/><circle cx="425.6" cy="134.0" r="1.85" fill="#ff0000"/><circle cx="432.6" cy="148.4" r="1.85" fill="#ff0000"/><circle cx="439.6" cy="167.3" r="1.85" fill="#ff0000"/><circle cx="446.6" cy="187.4" r="1.85" fill="#ff0000"/><circle cx="453.6" cy="178.4" r="1.85" fill="#ff0000"/><circle cx="460.6" cy="186.9" r="1.85" fill="#ff0000"/><circle cx="467.6" cy="189.6" r="1.85" fill="#ff0000"/><circle cx="474.6" cy="172.8" r="1.85" fill="#ff0000"/><circle cx="481.6" cy="143.0" r="1.85" fill="#ff0000"/><circle cx="488.6" cy="113.3" r="1.85" fill="#ff0000"/><circle cx="495.6" cy="91.2" r="1.85" fill="#ff0000"/><circle cx="502.6" cy="86.0" r="1.85" fill="#ff0000"/><circle cx="509.6" cy="64.8" r="1.85" fill="#ff0000"/><circle cx="516.6" cy="81.5" r="1.85" fill="#ff0000"/><circle cx="523.6" cy="100.3" r="1.85" fill="#ff0000"/><circle cx="530.6" cy="104.0" r="1.85" fill="#ff0000"/><circle cx="537.6" cy="136.0" r="1.85" fill="#ff0000"/><circle cx="544.6" cy="150.0" r="1.85" fill="#ff0000"/><circle cx="551.6" cy="167.0" r="1.85" fill="#ff0000"/><circle cx="558.6" cy="178.0" r="1.85" fill="#ff0000"/><circle cx="565.6" cy="193.0" r="1.85" fill="#ff0000"/><circle cx="572.6" cy="192.1" r="1.85" fill="#ff0000"/><circle cx="579.6" cy="203.0" r="1.85" fill="#ff0000"/><circle cx="586.6" cy="188.0" r="1.85" fill="#ff0000"/><circle cx="593.6" cy="140.3" r="1.85" fill="#ff0000"/><circle cx="600.6" cy="105.7" r="1.85" fill="#ff0000"/><circle cx="607.6" cy="85.9" r="1.85" fill="#ff0000"/><circle cx="614.6" cy="74.3" r="1.85" fill="#ff0000"/><circle cx="621.6" cy="65.4" r="1.85" fill="#ff0000"/><circle cx="628.6" cy="75.0" r="1.85" fill="#ff0000"/><circle cx="635.6" cy="98.0" r="1.85" fill="#ff0000"/><circle cx="642.6" cy="110.9" r="1.85" fill="#ff0000"/><circle cx="649.6" cy="133.6" r="1.85" fill="#ff0000"/><circle cx="656.6" cy="150.0" r="1.85" fill="#ff0000"/><circle cx="663.6" cy="166.6" r="1.85" fill="#ff0000"/><circle cx="670.6" cy="177.5" r="1.85" fill="#ff0000"/><circle cx="677.6" cy="201.2" r="1.85" fill="#ff0000"/><circle cx="684.6" cy="186.0" r="1.85" fill="#ff0000"/><polyline points="404.6,133.1 405.0,130.0 404.9,130.3 406.8,133.2 407.1,132.5 407.1,132.3 406.0,134.7 408.0,133.7 406.8,124.7 407.8,129.9 409.0,131.7 409.6,129.5 409.8,133.6 409.5,138.7 410.8,136.9 410.4,129.3 411.0,131.8 412.0,133.4 411.7,128.7 412.0,137.2 412.2,133.4 413.5,126.9 413.6,137.8 412.6,131.3 414.3,129.7 415.1,132.8 414.2,136.1 416.1,137.0 417.0,135.0 416.5,128.4 417.2,131.3 416.9,128.6 416.9,131.5 418.9,126.2 417.4,134.6 419.8,136.7 417.8,124.0 419.8,131.6 419.2,138.1 421.1,135.5 420.9,136.5 422.3,137.6 421.9,137.2 420.9,139.8 423.0,137.5 421.4,132.4 423.8,128.6 423.4,139.5 423.1,141.7 424.8,135.3 425.0,138.5 425.3,140.6 425.1,134.4 426.7,136.7 425.8,139.9 427.8,135.2 426.2,135.9 427.5,135.7 429.0,133.3 429.2,132.5 428.2,139.5 430.0,141.0 429.8,138.2 430.1,139.9 430.2,138.8 431.2,138.1 431.7,140.4 433.0,139.9 431.7,136.8 432.4,142.1 432.5,140.0 434.4,129.1 432.8,139.5 434.2,140.0 434.1,141.6 435.0,137.3 436.9,141.3 435.2,139.0 435.8,139.4 434.4,137.2 437.5,135.6 437.1,143.8 438.2,146.2 436.8,138.5 438.1,142.8 439.5,130.4 439.9,135.3 440.0,135.2 440.1,145.7 440.2,141.8 441.3,141.8 441.1,147.2 442.3,140.3 443.9,137.3 443.0,140.6 442.8,144.3 443.3,144.2 442.5,135.6 444.4,138.1 443.6,136.0 445.6,145.0 446.2,138.6 445.5,137.7 446.5,148.5 445.7,148.2 447.4,141.8 445.8,147.6 447.5,140.1 448.2,144.2 449.4,138.9 449.5,148.7 450.2,142.3 449.0,146.8 450.0,143.5 451.3,142.2 449.1,141.3 449.8,146.2 451.8,141.0 451.9,146.6 452.4,148.7 452.7,147.6 454.2,150.1 453.1,147.0 452.6,139.3 453.0,147.8 453.9,143.7 455.0,143.9 455.1,144.9 457.2,144.6 456.7,148.2 456.6,139.4 456.7,148.5 456.4,141.9 458.6,147.8 458.3,147.8 458.8,140.2 458.0,142.1 460.2,142.8 459.3,141.9 459.2,144.4 459.9,146.4 459.5,146.2 461.1,137.6 462.4,144.4 460.8,141.7 462.9,143.8 463.7,148.6 464.0,147.1 464.8,148.5 464.6,137.8 465.3,151.2 464.9,144.2 466.9,139.5 466.2,155.7 465.7,148.8 468.0,146.1 467.5,150.0 466.9,146.0 468.1,149.8 468.3,145.9 468.0,145.2 469.7,147.3 468.9,143.5 471.8,151.4 470.8,136.9 471.1,148.9 472.3,148.7 471.5,149.0 470.5,151.0 472.5,144.3 473.6,154.1 472.1,144.4 473.7,147.7 473.6,143.2 475.8,151.0 473.9,141.8 476.3,150.9 476.8,150.2 475.3,148.0 474.8,144.1 476.7,149.0 476.6,146.5 477.8,148.5 478.3,147.8 478.1,150.1 478.7,143.8 478.7,147.0 479.4,147.6 479.9,147.7 480.2,141.7 481.0,149.1 481.4,143.5 481.8,139.6 480.6,146.1 481.6,146.6 481.9,132.9 482.4,148.4 483.2,134.8 483.4,141.7 484.6,135.6 485.7,133.5 485.1,135.6 486.6,131.1 486.6,123.3 486.2,131.9 486.5,132.1 487.5,128.3 487.3,135.1 488.7,121.0 488.3,132.9 488.4,126.0 489.8,119.4 488.7,122.7 490.1,122.9 490.8,116.9 491.3,117.8 491.2,116.1 491.3,118.3 491.1,113.6 492.3,107.7 492.4,105.4 492.6,115.1 493.9,110.1 493.7,105.1 495.6,109.1 495.4,103.8 494.9,101.1 496.0,109.8 494.5,108.8 496.7,97.8 495.4,103.2 496.6,99.5 497.5,103.5 498.3,103.0 499.3,102.0 497.7,99.9 498.3,96.0 499.4,97.3 500.2,88.8 499.4,97.2 500.5,92.9 501.0,89.8 502.0,92.1 501.8,88.4 502.1,79.8 502.0,90.9 502.0,91.4 503.6,82.3 503.7,86.2 504.6,88.1 504.6,82.3 505.0,84.7 506.0,84.2 505.3,79.0 506.0,80.1 505.9,82.8 506.7,81.6 507.8,76.6 509.5,72.7 509.0,75.6 509.4,64.8 508.5,77.4 509.9,82.0 510.1,77.4 510.8,74.6 511.0,70.2 511.4,66.5 512.3,66.3 512.0,78.7 512.1,70.4 513.5,69.9 512.5,71.2 513.9,72.4 513.3,76.7 515.4,69.1 514.8,67.5 516.0,66.6 515.9,67.4 515.4,71.8 517.2,69.8 516.2,72.5 517.0,70.9 518.5,74.8 517.5,78.8 518.2,73.3 518.2,70.1 517.8,77.0 520.4,67.4 518.8,64.2 521.1,72.2 520.6,71.5 520.9,69.4 521.4,69.5 521.8,77.2 522.6,77.3 522.0,77.3 522.7,84.7 524.0,81.8 523.5,78.1 523.6,79.7 524.8,87.0 525.4,95.6 524.9,85.4 527.8,89.9 525.9,89.9 526.7,94.4 526.9,94.8 527.5,98.8 526.5,88.4 528.2,94.9 527.9,100.0 528.6,102.9 529.9,106.4 530.2,105.5 529.2,103.0 530.9,106.1 530.9,111.1 530.8,110.3 533.1,112.5 532.3,111.7 533.7,117.6 533.6,113.5 533.4,115.5 532.6,118.7 534.8,113.5 535.1,120.9 535.3,123.5 534.4,117.8 536.9,125.3 535.5,117.4 535.8,124.9 538.2,132.4 537.6,138.0 537.4,126.4 538.6,133.7 537.9,125.5 539.2,133.9 538.5,130.6 539.4,135.3 540.1,134.7 540.4,139.7 542.0,137.0 542.0,135.5 541.9,141.2 543.3,138.9 542.6,140.1 542.0,138.5 542.9,141.3 543.0,132.3 544.2,142.9 544.2,145.3 544.8,140.3 545.7,138.6 545.3,143.7 546.8,146.7 546.8,144.8 547.2,154.8 546.9,156.8 547.3,148.7 548.3,155.0 547.7,141.4 549.4,156.7 549.8,164.8 549.9,155.8 550.8,158.5 551.8,154.4 550.7,143.3 552.0,158.2 552.4,169.2 552.2,159.3 552.2,157.1 552.5,163.6 553.4,163.4 553.7,167.4 554.5,165.3 555.1,166.6 554.2,170.7 555.7,165.3 556.5,172.7 555.1,173.5 556.8,175.6 557.1,172.4 556.3,174.4 557.8,173.7 558.4,176.9 559.1,176.9 559.0,169.7 559.1,181.1 560.7,181.7 560.1,187.5 560.3,184.9 562.2,187.6 562.2,184.9 561.9,186.5 562.3,192.2 564.2,191.1 562.6,190.7 562.6,190.8 564.2,192.4 564.5,188.6 565.1,190.2 564.5,192.3 565.1,199.5 565.8,196.2 566.5,205.5 566.6,200.8 567.8,203.2 566.5,208.9 569.3,197.6 568.1,204.4 569.2,207.8 568.8,200.1 569.4,209.6 569.0,200.7 570.1,199.6 570.4,206.0 571.3,206.3 570.7,206.9 571.7,206.4 572.2,211.9 573.4,215.6 572.4,207.4 571.6,216.4 573.3,208.9 574.5,203.7 574.9,208.9 573.7,210.1 576.2,200.2 576.3,208.2 576.5,208.9 577.5,205.0 577.6,204.2 577.9,202.2 577.7,212.4 578.5,204.1 577.7,202.5 579.1,207.5 579.6,204.6 579.7,207.7 579.9,199.9 581.2,199.5 580.8,197.9 581.2,201.7 582.0,192.7 582.4,197.1 581.8,200.8 582.7,194.4 583.9,198.4 583.3,196.3 583.5,203.1 584.2,197.1 584.5,194.8 586.9,175.1 585.4,191.0 586.1,184.7 588.0,182.2 585.8,191.4 586.1,191.6 587.3,184.4 589.0,179.4 587.6,176.6 589.8,179.6 588.8,183.1 590.1,178.3 588.6,179.2 591.2,175.4 591.6,161.8 591.5,173.6 593.5,161.3 591.9,170.4 593.2,164.5 593.7,161.3 593.5,163.0 593.8,161.3 593.0,171.0 594.7,158.9 595.1,163.9 594.6,161.0 596.1,158.8 595.9,149.1 597.4,154.4 596.9,153.3 597.5,151.2 597.0,151.3 597.7,149.9 597.7,154.8 598.0,154.1 598.6,151.2 600.7,145.6 599.6,147.3 600.6,138.1 600.5,145.7 601.0,144.5 602.2,145.0 602.8,143.3 602.3,141.8 602.7,139.9 603.2,133.5 603.5,139.6 603.4,139.7 604.9,136.6 606.4,125.5 605.2,129.7 606.4,146.0 604.4,138.7 606.9,133.9 607.3,126.0 607.9,135.5 607.7,132.0 608.6,131.6 608.7,131.3 607.3,134.5 609.4,135.5 609.1,132.8 610.5,132.4 611.4,139.3 610.3,124.4 611.9,137.3 612.3,134.4 611.7,128.7 613.1,127.4 611.6,127.6 615.0,137.8 613.2,128.1 614.3,127.7 615.4,129.9 614.1,135.7 614.9,131.2 615.7,128.9 616.3,127.3 615.2,121.7 616.0,127.0 617.3,130.2 618.1,130.5 617.5,127.2 617.0,129.3 619.2,132.1 619.2,129.3 620.3,130.1 620.6,132.3 620.6,135.1 620.5,128.6 620.7,126.9 622.8,136.9 622.1,132.2 623.3,133.1 623.7,125.1 622.8,131.8 624.7,130.4 623.5,128.6 624.0,126.7 625.9,127.6 625.3,138.4 626.5,131.5 625.7,131.6 627.6,133.0 627.8,131.0 627.6,129.8 628.0,135.7 627.1,130.1 628.6,128.7 628.7,134.0 630.7,134.0 629.9,125.3 631.4,132.1 630.5,127.1 630.8,127.3 631.3,133.6 631.7,133.0 631.5,137.4 632.0,124.9 632.7,129.3 632.6,130.8 633.9,128.0 634.0,138.2 634.9,132.4 635.0,132.5 635.2,135.9 635.6,123.8 636.1,129.9 636.9,131.3 637.0,142.1 636.5,129.1 636.7,124.2 636.8,135.0 638.0,126.7 637.8,136.3 638.7,132.9 639.9,140.1 641.4,139.5 640.6,135.8 642.1,141.3 641.0,137.1 641.9,135.8 641.7,130.4 642.1,129.7 643.7,138.5 642.4,141.3 644.3,129.2 645.3,140.2 645.9,132.5 645.2,138.7 645.4,137.7 646.4,131.7 645.2,131.6 646.1,135.0 647.1,138.8 647.3,135.2 647.3,141.6 648.6,138.8 648.2,144.3 648.4,140.9 650.1,138.0 650.2,134.7 650.8,140.1 649.3,141.3 650.2,144.1 650.8,138.7 651.8,138.5 652.2,137.8 652.9,140.2 653.0,129.5 654.1,140.8 652.4,140.4 654.4,145.0 653.7,146.6 654.7,150.3 655.1,143.8 655.4,136.9 656.8,145.4 657.5,145.5 656.4,135.2 656.8,139.2 657.1,144.2 658.3,141.4 658.6,142.0 659.0,145.7 659.9,140.5 658.6,148.1 660.1,147.5 659.3,141.6 660.9,137.9 660.9,146.4 662.4,150.3 661.4,138.3 662.8,147.8 663.0,139.1 663.8,147.3 664.0,142.4 664.2,147.4 664.0,137.1 665.1,146.3 665.2,147.9 665.2,144.1 665.8,146.8 667.5,143.8 668.3,150.9 667.8,147.1 668.9,144.3 667.9,140.7 668.8,150.2 669.2,146.7 669.1,145.7 668.6,149.0 669.7,140.8 669.9,141.9 671.4,149.5 670.3,148.8 672.2,143.2 671.0,142.4 672.0,146.8 672.6,137.6 673.4,139.6 674.2,141.0 673.5,142.3 674.0,150.8 675.4,148.3 675.4,139.9 675.2,143.7 675.3,147.9 675.9,143.2 676.1,138.0 677.6,151.8 677.7,142.8 676.1,146.7 679.3,148.4 679.5,153.1 680.0,145.8 680.3,150.7 678.9,145.5 679.4,146.9 681.2,143.8 679.8,152.5 681.9,153.9 681.1,152.0 683.9,156.8 682.7,149.5 683.1,152.6 684.2,149.3 683.0,151.5" fill="none" stroke="#0000ff" stroke-width="0.7" stroke-linejoin="round"/><rect x="403.2" y="131.7" width="2.8" height="2.8" fill="#0000ff"/><rect x="403.6" y="128.6" width="2.8" height="2.8" fill="#0000ff"/><rect x="403.5" y="128.9" width="2.8" height="2.8" fill="#0000ff"/><rect x="405.4" y="131.8" width="2.8" height="2.8" fill="#0000ff"/><rect x="405.7" y="131.1" width="2.8" height="2.8" fill="#0000ff"/><rect x="405.7" y="130.9" width="2.8" height="2.8" fill="#0000ff"/><rect x="404.6" y="133.3" width="2.8" height="2.8" fill="#0000ff"/><rect x="406.6" y="132.3" width="2.8" height="2.8" fill="#0000ff"/><rect x="405.4" y="123.3" width="2.8" height="2.8" fill="#0000ff"/><rect x="406.4" y="128.5" width="2.8" height="2.8" fill="#0000ff"/><rect x="407.6" y="130.3" width="2.8" height="2.8" fill="#0000ff"/><rect x="408.2" y="128.1" width="2.8" height="2.8" fill="#0000ff"/><rect x="408.4" y="132.2" width="2.8" height="2.8" fill="#0000ff"/><rect x="408.1" y="137.3" width="2.8" height="2.8" fill="#0000ff"/><rect x="409.4" y="135.5" width="2.8" height="2.8" fill="#0000ff"/><rect x="409.0" y="127.9" width="2.8" height="2.8" fill="#0000ff"/><rect x="409.6" y="130.4" width="2.8" height="2.8" fill="#0000ff"/><rect x="410.6" y="132.0" width="2.8" height="2.8" fill="#0000ff"/><rect x="410.3" y="127.3" width="2.8" height="2.8" fill="#0000ff"/><rect x="410.6" y="135.8" width="2.8" height="2.8" fill="#0000ff"/><rect x="410.8" y="132.0" width="2.8" height="2.8" fill="#0000ff"/><rect x="412.1" y="125.5" width="2.8" height="2.8" fill="#0000ff"/><rect x="412.2" y="136.4" width="2.8" height="2.8" fill="#0000ff"/><rect x="411.2" y="129.9" width="2.8" height="2.8" fill="#0000ff"/><rect x="412.9" y="128.3" width="2.8" height="2.8" fill="#0000ff"/><rect x="413.7" y="131.4" width="2.8" height="2.8" fill="#0000ff"/><rect x="412.8" y="134.7" width="2.8" height="2.8" fill="#0000ff"/><rect x="414.7" y="135.6" width="2.8" height="2.8" fill="#0000ff"/><rect x="415.6" y="133.6" width="2.8" height="2.8" fill="#0000ff"/><rect x="415.1" y="127.0" width="2.8" height="2.8" fill="#0000ff"/><rect x="415.8" y="129.9" width="2.8" height="2.8" fill="#0000ff"/><rect x="415.5" y="127.2" width="2.8" height="2.8" fill="#0000ff"/><rect x="415.5" y="130.1" width="2.8" height="2.8" fill="#0000ff"/><rect x="417.5" y="124.8" width="2.8" height="2.8" fill="#0000ff"/><rect x="416.0" y="133.2" width="2.8" height="2.8" fill="#0000ff"/><rect x="418.4" y="135.3" width="2.8" height="2.8" fill="#0000ff"/><rect x="416.4" y="122.6" width="2.8" height="2.8" fill="#0000ff"/><rect x="418.4" y="130.2" width="2.8" height="2.8" fill="#0000ff"/><rect x="417.8" y="136.7" width="2.8" height="2.8" fill="#0000ff"/><rect x="419.7" y="134.1" width="2.8" height="2.8" fill="#0000ff"/><rect x="419.5" y="135.1" width="2.8" height="2.8" fill="#0000ff"/><rect x="420.9" y="136.2" width="2.8" height="2.8" fill="#0000ff"/><rect x="420.5" y="135.8" width="2.8" height="2.8" fill="#0000ff"/><rect x="419.5" y="138.4" width="2.8" height="2.8" fill="#0000ff"/><rect x="421.6" y="136.1" width="2.8" height="2.8" fill="#0000ff"/><rect x="420.0" y="131.0" width="2.8" height="2.8" fill="#0000ff"/><rect x="422.4" y="127.2" width="2.8" height="2.8" fill="#0000ff"/><rect x="422.0" y="138.1" width="2.8" height="2.8" fill="#0000ff"/><rect x="421.7" y="140.3" width="2.8" height="2.8" fill="#0000ff"/><rect x="423.4" y="133.9" width="2.8" height="2.8" fill="#0000ff"/><rect x="423.6" y="137.1" width="2.8" height="2.8" fill="#0000ff"/><rect x="423.9" y="139.2" width="2.8" height="2.8" fill="#0000ff"/><rect x="423.7" y="133.0" width="2.8" height="2.8" fill="#0000ff"/><rect x="425.3" y="135.3" width="2.8" height="2.8" fill="#0000ff"/><rect x="424.4" y="138.5" width="2.8" height="2.8" fill="#0000ff"/><rect x="426.4" y="133.8" width="2.8" height="2.8" fill="#0000ff"/><rect x="424.8" y="134.5" width="2.8" height="2.8" fill="#0000ff"/><rect x="426.1" y="134.3" width="2.8" height="2.8" fill="#0000ff"/><rect x="427.6" y="131.9" width="2.8" height="2.8" fill="#0000ff"/><rect x="427.8" y="131.1" width="2.8" height="2.8" fill="#0000ff"/><rect x="426.8" y="138.1" width="2.8" height="2.8" fill="#0000ff"/><rect x="428.6" y="139.6" width="2.8" height="2.8" fill="#0000ff"/><rect x="428.4" y="136.8" width="2.8" height="2.8" fill="#0000ff"/><rect x="428.7" y="138.5" width="2.8" height="2.8" fill="#0000ff"/><rect x="428.8" y="137.4" width="2.8" height="2.8" fill="#0000ff"/><rect x="429.8" y="136.7" width="2.8" height="2.8" fill="#0000ff"/><rect x="430.3" y="139.0" width="2.8" height="2.8" fill="#0000ff"/><rect x="431.6" y="138.5" width="2.8" height="2.8" fill="#0000ff"/><rect x="430.3" y="135.4" width="2.8" height="2.8" fill="#0000ff"/><rect x="431.0" y="140.7" width="2.8" height="2.8" fill="#0000ff"/><rect x="431.1" y="138.6" width="2.8" height="2.8" fill="#0000ff"/><rect x="433.0" y="127.7" width="2.8" height="2.8" fill="#0000ff"/><rect x="431.4" y="138.1" width="2.8" height="2.8" fill="#0000ff"/><rect x="432.8" y="138.6" width="2.8" height="2.8" fill="#0000ff"/><rect x="432.7" y="140.2" width="2.8" height="2.8" fill="#0000ff"/><rect x="433.6" y="135.9" width="2.8" height="2.8" fill="#0000ff"/><rect x="435.5" y="139.9" width="2.8" height="2.8" fill="#0000ff"/><rect x="433.8" y="137.6" width="2.8" height="2.8" fill="#0000ff"/><rect x="434.4" y="138.0" width="2.8" height="2.8" fill="#0000ff"/><rect x="433.0" y="135.8" width="2.8" height="2.8" fill="#0000ff"/><rect x="436.1" y="134.2" width="2.8" height="2.8" fill="#0000ff"/><rect x="435.7" y="142.4" width="2.8" height="2.8" fill="#0000ff"/><rect x="436.8" y="144.8" width="2.8" height="2.8" fill="#0000ff"/><rect x="435.4" y="137.1" width="2.8" height="2.8" fill="#0000ff"/><rect x="436.7" y="141.4" width="2.8" height="2.8" fill="#0000ff"/><rect x="438.1" y="129.0" width="2.8" height="2.8" fill="#0000ff"/><rect x="438.5" y="133.9" width="2.8" height="2.8" fill="#0000ff"/><rect x="438.6" y="133.8" width="2.8" height="2.8" fill="#0000ff"/><rect x="438.7" y="144.3" width="2.8" height="2.8" fill="#0000ff"/><rect x="438.8" y="140.4" width="2.8" height="2.8" fill="#0000ff"/><rect x="439.9" y="140.4" width="2.8" height="2.8" fill="#0000ff"/><rect x="439.7" y="145.8" width="2.8" height="2.8" fill="#0000ff"/><rect x="440.9" y="138.9" width="2.8" height="2.8" fill="#0000ff"/><rect x="442.5" y="135.9" width="2.8" height="2.8" fill="#0000ff"/><rect x="441.6" y="139.2" width="2.8" height="2.8" fill="#0000ff"/><rect x="441.4" y="142.9" width="2.8" height="2.8" fill="#0000ff"/><rect x="441.9" y="142.8" width="2.8" height="2.8" fill="#0000ff"/><rect x="441.1" y="134.2" width="2.8" height="2.8" fill="#0000ff"/><rect x="443.0" y="136.7" width="2.8" height="2.8" fill="#0000ff"/><rect x="442.2" y="134.6" width="2.8" height="2.8" fill="#0000ff"/><rect x="444.2" y="143.6" width="2.8" height="2.8" fill="#0000ff"/><rect x="444.8" y="137.2" width="2.8" height="2.8" fill="#0000ff"/><rect x="444.1" y="136.3" width="2.8" height="2.8" fill="#0000ff"/><rect x="445.1" y="147.1" width="2.8" height="2.8" fill="#0000ff"/><rect x="444.3" y="146.8" width="2.8" height="2.8" fill="#0000ff"/><rect x="446.0" y="140.4" width="2.8" height="2.8" fill="#0000ff"/><rect x="444.4" y="146.2" width="2.8" height="2.8" fill="#0000ff"/><rect x="446.1" y="138.7" width="2.8" height="2.8" fill="#0000ff"/><rect x="446.8" y="142.8" width="2.8" height="2.8" fill="#0000ff"/><rect x="448.0" y="137.5" width="2.8" height="2.8" fill="#0000ff"/><rect x="448.1" y="147.3" width="2.8" height="2.8" fill="#0000ff"/><rect x="448.8" y="140.9" width="2.8" height="2.8" fill="#0000ff"/><rect x="447.6" y="145.4" width="2.8" height="2.8" fill="#0000ff"/><rect x="448.6" y="142.1" width="2.8" height="2.8" fill="#0000ff"/><rect x="449.9" y="140.8" width="2.8" height="2.8" fill="#0000ff"/><rect x="447.7" y="139.9" width="2.8" height="2.8" fill="#0000ff"/><rect x="448.4" y="144.8" width="2.8" height="2.8" fill="#0000ff"/><rect x="450.4" y="139.6" width="2.8" height="2.8" fill="#0000ff"/><rect x="450.5" y="145.2" width="2.8" height="2.8" fill="#0000ff"/><rect x="451.0" y="147.3" width="2.8" height="2.8" fill="#0000ff"/><rect x="451.3" y="146.2" width="2.8" height="2.8" fill="#0000ff"/><rect x="452.8" y="148.7" width="2.8" height="2.8" fill="#0000ff"/><rect x="451.7" y="145.6" width="2.8" height="2.8" fill="#0000ff"/><rect x="451.2" y="137.9" width="2.8" height="2.8" fill="#0000ff"/><rect x="451.6" y="146.4" width="2.8" height="2.8" fill="#0000ff"/><rect x="452.5" y="142.3" width="2.8" height="2.8" fill="#0000ff"/><rect x="453.6" y="142.5" width="2.8" height="2.8" fill="#0000ff"/><rect x="453.7" y="143.5" width="2.8" height="2.8" fill="#0000ff"/><rect x="455.8" y="143.2" width="2.8" height="2.8" fill="#0000ff"/><rect x="455.3" y="146.8" width="2.8" height="2.8" fill="#0000ff"/><rect x="455.2" y="138.0" width="2.8" height="2.8" fill="#0000ff"/><rect x="455.3" y="147.1" width="2.8" height="2.8" fill="#0000ff"/><rect x="455.0" y="140.5" width="2.8" height="2.8" fill="#0000ff"/><rect x="457.2" y="146.4" width="2.8" height="2.8" fill="#0000ff"/><rect x="456.9" y="146.4" width="2.8" height="2.8" fill="#0000ff"/><rect x="457.4" y="138.8" width="2.8" height="2.8" fill="#0000ff"/><rect x="456.6" y="140.7" width="2.8" height="2.8" fill="#0000ff"/><rect x="458.8" y="141.4" width="2.8" height="2.8" fill="#0000ff"/><rect x="457.9" y="140.5" width="2.8" height="2.8" fill="#0000ff"/><rect x="457.8" y="143.0" width="2.8" height="2.8" fill="#0000ff"/><rect x="458.5" y="145.0" width="2.8" height="2.8" fill="#0000ff"/><rect x="458.1" y="144.8" width="2.8" height="2.8" fill="#0000ff"/><rect x="459.7" y="136.2" width="2.8" height="2.8" fill="#0000ff"/><rect x="461.0" y="143.0" width="2.8" height="2.8" fill="#0000ff"/><rect x="459.4" y="140.3" width="2.8" height="2.8" fill="#0000ff"/><rect x="461.5" y="142.4" width="2.8" height="2.8" fill="#0000ff"/><rect x="462.3" y="147.2" width="2.8" height="2.8" fill="#0000ff"/><rect x="462.6" y="145.7" width="2.8" height="2.8" fill="#0000ff"/><rect x="463.4" y="147.1" width="2.8" height="2.8" fill="#0000ff"/><rect x="463.2" y="136.4" width="2.8" height="2.8" fill="#0000ff"/><rect x="463.9" y="149.8" width="2.8" height="2.8" fill="#0000ff"/><rect x="463.5" y="142.8" width="2.8" height="2.8" fill="#0000ff"/><rect x="465.5" y="138.1" width="2.8" height="2.8" fill="#0000ff"/><rect x="464.8" y="154.3" width="2.8" height="2.8" fill="#0000ff"/><rect x="464.3" y="147.4" width="2.8" height="2.8" fill="#0000ff"/><rect x="466.6" y="144.7" width="2.8" height="2.8" fill="#0000ff"/><rect x="466.1" y="148.6" width="2.8" height="2.8" fill="#0000ff"/><rect x="465.5" y="144.6" width="2.8" height="2.8" fill="#0000ff"/><rect x="466.7" y="148.4" width="2.8" height="2.8" fill="#0000ff"/><rect x="466.9" y="144.5" width="2.8" height="2.8" fill="#0000ff"/><rect x="466.6" y="143.8" width="2.8" height="2.8" fill="#0000ff"/><rect x="468.3" y="145.9" width="2.8" height="2.8" fill="#0000ff"/><rect x="467.5" y="142.1" width="2.8" height="2.8" fill="#0000ff"/><rect x="470.4" y="150.0" width="2.8" height="2.8" fill="#0000ff"/><rect x="469.4" y="135.5" width="2.8" height="2.8" fill="#0000ff"/><rect x="469.7" y="147.5" width="2.8" height="2.8" fill="#0000ff"/><rect x="470.9" y="147.3" width="2.8" height="2.8" fill="#0000ff"/><rect x="470.1" y="147.6" width="2.8" height="2.8" fill="#0000ff"/><rect x="469.1" y="149.6" width="2.8" height="2.8" fill="#0000ff"/><rect x="471.1" y="142.9" width="2.8" height="2.8" fill="#0000ff"/><rect x="472.2" y="152.7" width="2.8" height="2.8" fill="#0000ff"/><rect x="470.7" y="143.0" width="2.8" height="2.8" fill="#0000ff"/><rect x="472.3" y="146.3" width="2.8" height="2.8" fill="#0000ff"/><rect x="472.2" y="141.8" width="2.8" height="2.8" fill="#0000ff"/><rect x="474.4" y="149.6" width="2.8" height="2.8" fill="#0000ff"/><rect x="472.5" y="140.4" width="2.8" height="2.8" fill="#0000ff"/><rect x="474.9" y="149.5" width="2.8" height="2.8" fill="#0000ff"/><rect x="475.4" y="148.8" width="2.8" height="2.8" fill="#0000ff"/><rect x="473.9" y="146.6" width="2.8" height="2.8" fill="#0000ff"/><rect x="473.4" y="142.7" width="2.8" height="2.8" fill="#0000ff"/><rect x="475.3" y="147.6" width="2.8" height="2.8" fill="#0000ff"/><rect x="475.2" y="145.1" width="2.8" height="2.8" fill="#0000ff"/><rect x="476.4" y="147.1" width="2.8" height="2.8" fill="#0000ff"/><rect x="476.9" y="146.4" width="2.8" height="2.8" fill="#0000ff"/><rect x="476.7" y="148.7" width="2.8" height="2.8" fill="#0000ff"/><rect x="477.3" y="142.4" width="2.8" height="2.8" fill="#0000ff"/><rect x="477.3" y="145.6" width="2.8" height="2.8" fill="#0000ff"/><rect x="478.0" y="146.2" width="2.8" height="2.8" fill="#0000ff"/><rect x="478.5" y="146.3" width="2.8" height="2.8" fill="#0000ff"/><rect x="478.8" y="140.3" width="2.8" height="2.8" fill="#0000ff"/><rect x="479.6" y="147.7" width="2.8" height="2.8" fill="#0000ff"/><rect x="480.0" y="142.1" width="2.8" height="2.8" fill="#0000ff"/><rect x="480.4" y="138.2" width="2.8" height="2.8" fill="#0000ff"/><rect x="479.2" y="144.7" width="2.8" height="2.8" fill="#0000ff"/><rect x="480.2" y="145.2" width="2.8" height="2.8" fill="#0000ff"/><rect x="480.5" y="131.5" width="2.8" height="2.8" fill="#0000ff"/><rect x="481.0" y="147.0" width="2.8" height="2.8" fill="#0000ff"/><rect x="481.8" y="133.4" width="2.8" height="2.8" fill="#0000ff"/><rect x="482.0" y="140.3" width="2.8" height="2.8" fill="#0000ff"/><rect x="483.2" y="134.2" width="2.8" height="2.8" fill="#0000ff"/><rect x="484.3" y="132.1" width="2.8" height="2.8" fill="#0000ff"/><rect x="483.7" y="134.2" width="2.8" height="2.8" fill="#0000ff"/><rect x="485.2" y="129.7" width="2.8" height="2.8" fill="#0000ff"/><rect x="485.2" y="121.9" width="2.8" height="2.8" fill="#0000ff"/><rect x="484.8" y="130.5" width="2.8" height="2.8" fill="#0000ff"/><rect x="485.1" y="130.7" width="2.8" height="2.8" fill="#0000ff"/><rect x="486.1" y="126.9" width="2.8" height="2.8" fill="#0000ff"/><rect x="485.9" y="133.7" width="2.8" height="2.8" fill="#0000ff"/><rect x="487.3" y="119.6" width="2.8" height="2.8" fill="#0000ff"/><rect x="486.9" y="131.5" width="2.8" height="2.8" fill="#0000ff"/><rect x="487.0" y="124.6" width="2.8" height="2.8" fill="#0000ff"/><rect x="488.4" y="118.0" width="2.8" height="2.8" fill="#0000ff"/><rect x="487.3" y="121.3" width="2.8" height="2.8" fill="#0000ff"/><rect x="488.7" y="121.5" width="2.8" height="2.8" fill="#0000ff"/><rect x="489.4" y="115.5" width="2.8" height="2.8" fill="#0000ff"/><rect x="489.9" y="116.4" width="2.8" height="2.8" fill="#0000ff"/><rect x="489.8" y="114.7" width="2.8" height="2.8" fill="#0000ff"/><rect x="489.9" y="116.9" width="2.8" height="2.8" fill="#0000ff"/><rect x="489.7" y="112.2" width="2.8" height="2.8" fill="#0000ff"/><rect x="490.9" y="106.3" width="2.8" height="2.8" fill="#0000ff"/><rect x="491.0" y="104.0" width="2.8" height="2.8" fill="#0000ff"/><rect x="491.2" y="113.7" width="2.8" height="2.8" fill="#0000ff"/><rect x="492.5" y="108.7" width="2.8" height="2.8" fill="#0000ff"/><rect x="492.3" y="103.7" width="2.8" height="2.8" fill="#0000ff"/><rect x="494.2" y="107.7" width="2.8" height="2.8" fill="#0000ff"/><rect x="494.0" y="102.4" width="2.8" height="2.8" fill="#0000ff"/><rect x="493.5" y="99.7" width="2.8" height="2.8" fill="#0000ff"/><rect x="494.6" y="108.4" width="2.8" height="2.8" fill="#0000ff"/><rect x="493.1" y="107.4" width="2.8" height="2.8" fill="#0000ff"/><rect x="495.3" y="96.4" width="2.8" height="2.8" fill="#0000ff"/><rect x="494.0" y="101.8" width="2.8" height="2.8" fill="#0000ff"/><rect x="495.2" y="98.1" width="2.8" height="2.8" fill="#0000ff"/><rect x="496.1" y="102.1" width="2.8" height="2.8" fill="#0000ff"/><rect x="496.9" y="101.6" width="2.8" height="2.8" fill="#0000ff"/><rect x="497.9" y="100.6" width="2.8" height="2.8" fill="#0000ff"/><rect x="496.3" y="98.5" width="2.8" height="2.8" fill="#0000ff"/><rect x="496.9" y="94.6" width="2.8" height="2.8" fill="#0000ff"/><rect x="498.0" y="95.9" width="2.8" height="2.8" fill="#0000ff"/><rect x="498.8" y="87.4" width="2.8" height="2.8" fill="#0000ff"/><rect x="498.0" y="95.8" width="2.8" height="2.8" fill="#0000ff"/><rect x="499.1" y="91.5" width="2.8" height="2.8" fill="#0000ff"/><rect x="499.6" y="88.4" width="2.8" height="2.8" fill="#0000ff"/><rect x="500.6" y="90.7" width="2.8" height="2.8" fill="#0000ff"/><rect x="500.4" y="87.0" width="2.8" height="2.8" fill="#0000ff"/><rect x="500.7" y="78.4" width="2.8" height="2.8" fill="#0000ff"/><rect x="500.6" y="89.5" width="2.8" height="2.8" fill="#0000ff"/><rect x="500.6" y="90.0" width="2.8" height="2.8" fill="#0000ff"/><rect x="502.2" y="80.9" width="2.8" height="2.8" fill="#0000ff"/><rect x="502.3" y="84.8" width="2.8" height="2.8" fill="#0000ff"/><rect x="503.2" y="86.7" width="2.8" height="2.8" fill="#0000ff"/><rect x="503.2" y="80.9" width="2.8" height="2.8" fill="#0000ff"/><rect x="503.6" y="83.3" width="2.8" height="2.8" fill="#0000ff"/><rect x="504.6" y="82.8" width="2.8" height="2.8" fill="#0000ff"/><rect x="503.9" y="77.6" width="2.8" height="2.8" fill="#0000ff"/><rect x="504.6" y="78.7" width="2.8" height="2.8" fill="#0000ff"/><rect x="504.5" y="81.4" width="2.8" height="2.8" fill="#0000ff"/><rect x="505.3" y="80.2" width="2.8" height="2.8" fill="#0000ff"/><rect x="506.4" y="75.2" width="2.8" height="2.8" fill="#0000ff"/><rect x="508.1" y="71.3" width="2.8" height="2.8" fill="#0000ff"/><rect x="507.6" y="74.2" width="2.8" height="2.8" fill="#0000ff"/><rect x="508.0" y="63.4" width="2.8" height="2.8" fill="#0000ff"/><rect x="507.1" y="76.0" width="2.8" height="2.8" fill="#0000ff"/><rect x="508.5" y="80.6" width="2.8" height="2.8" fill="#0000ff"/><rect x="508.7" y="76.0" width="2.8" height="2.8" fill="#0000ff"/><rect x="509.4" y="73.2" width="2.8" height="2.8" fill="#0000ff"/><rect x="509.6" y="68.8" width="2.8" height="2.8" fill="#0000ff"/><rect x="510.0" y="65.1" width="2.8" height="2.8" fill="#0000ff"/><rect x="510.9" y="64.9" width="2.8" height="2.8" fill="#0000ff"/><rect x="510.6" y="77.3" width="2.8" height="2.8" fill="#0000ff"/><rect x="510.7" y="69.0" width="2.8" height="2.8" fill="#0000ff"/><rect x="512.1" y="68.5" width="2.8" height="2.8" fill="#0000ff"/><rect x="511.1" y="69.8" width="2.8" height="2.8" fill="#0000ff"/><rect x="512.5" y="71.0" width="2.8" height="2.8" fill="#0000ff"/><rect x="511.9" y="75.3" width="2.8" height="2.8" fill="#0000ff"/><rect x="514.0" y="67.7" width="2.8" height="2.8" fill="#0000ff"/><rect x="513.4" y="66.1" width="2.8" height="2.8" fill="#0000ff"/><rect x="514.6" y="65.2" width="2.8" height="2.8" fill="#0000ff"/><rect x="514.5" y="66.0" width="2.8" height="2.8" fill="#0000ff"/><rect x="514.0" y="70.4" width="2.8" height="2.8" fill="#0000ff"/><rect x="515.8" y="68.4" width="2.8" height="2.8" fill="#0000ff"/><rect x="514.8" y="71.1" width="2.8" height="2.8" fill="#0000ff"/><rect x="515.6" y="69.5" width="2.8" height="2.8" fill="#0000ff"/><rect x="517.1" y="73.4" width="2.8" height="2.8" fill="#0000ff"/><rect x="516.1" y="77.4" width="2.8" height="2.8" fill="#0000ff"/><rect x="516.8" y="71.9" width="2.8" height="2.8" fill="#0000ff"/><rect x="516.8" y="68.7" width="2.8" height="2.8" fill="#0000ff"/><rect x="516.4" y="75.6" width="2.8" height="2.8" fill="#0000ff"/><rect x="519.0" y="66.0" width="2.8" height="2.8" fill="#0000ff"/><rect x="517.4" y="62.8" width="2.8" height="2.8" fill="#0000ff"/><rect x="519.7" y="70.8" width="2.8" height="2.8" fill="#0000ff"/><rect x="519.2" y="70.1" width="2.8" height="2.8" fill="#0000ff"/><rect x="519.5" y="68.0" width="2.8" height="2.8" fill="#0000ff"/><rect x="520.0" y="68.1" width="2.8" height="2.8" fill="#0000ff"/><rect x="520.4" y="75.8" width="2.8" height="2.8" fill="#0000ff"/><rect x="521.2" y="75.9" width="2.8" height="2.8" fill="#0000ff"/><rect x="520.6" y="75.9" width="2.8" height="2.8" fill="#0000ff"/><rect x="521.3" y="83.3" width="2.8" height="2.8" fill="#0000ff"/><rect x="522.6" y="80.4" width="2.8" height="2.8" fill="#0000ff"/><rect x="522.1" y="76.7" width="2.8" height="2.8" fill="#0000ff"/><rect x="522.2" y="78.3" width="2.8" height="2.8" fill="#0000ff"/><rect x="523.4" y="85.6" width="2.8" height="2.8" fill="#0000ff"/><rect x="524.0" y="94.2" width="2.8" height="2.8" fill="#0000ff"/><rect x="523.5" y="84.0" width="2.8" height="2.8" fill="#0000ff"/><rect x="526.4" y="88.5" width="2.8" height="2.8" fill="#0000ff"/><rect x="524.5" y="88.5" width="2.8" height="2.8" fill="#0000ff"/><rect x="525.3" y="93.0" width="2.8" height="2.8" fill="#0000ff"/><rect x="525.5" y="93.4" width="2.8" height="2.8" fill="#0000ff"/><rect x="526.1" y="97.4" width="2.8" height="2.8" fill="#0000ff"/><rect x="525.1" y="87.0" width="2.8" height="2.8" fill="#0000ff"/><rect x="526.8" y="93.5" width="2.8" height="2.8" fill="#0000ff"/><rect x="526.5" y="98.6" width="2.8" height="2.8" fill="#0000ff"/><rect x="527.2" y="101.5" width="2.8" height="2.8" fill="#0000ff"/><rect x="528.5" y="105.0" width="2.8" height="2.8" fill="#0000ff"/><rect x="528.8" y="104.1" width="2.8" height="2.8" fill="#0000ff"/><rect x="527.8" y="101.6" width="2.8" height="2.8" fill="#0000ff"/><rect x="529.5" y="104.7" width="2.8" height="2.8" fill="#0000ff"/><rect x="529.5" y="109.7" width="2.8" height="2.8" fill="#0000ff"/><rect x="529.4" y="108.9" width="2.8" height="2.8" fill="#0000ff"/><rect x="531.7" y="111.1" width="2.8" height="2.8" fill="#0000ff"/><rect x="530.9" y="110.3" width="2.8" height="2.8" fill="#0000ff"/><rect x="532.3" y="116.2" width="2.8" height="2.8" fill="#0000ff"/><rect x="532.2" y="112.1" width="2.8" height="2.8" fill="#0000ff"/><rect x="532.0" y="114.1" width="2.8" height="2.8" fill="#0000ff"/><rect x="531.2" y="117.3" width="2.8" height="2.8" fill="#0000ff"/><rect x="533.4" y="112.1" width="2.8" height="2.8" fill="#0000ff"/><rect x="533.7" y="119.5" width="2.8" height="2.8" fill="#0000ff"/><rect x="533.9" y="122.1" width="2.8" height="2.8" fill="#0000ff"/><rect x="533.0" y="116.4" width="2.8" height="2.8" fill="#0000ff"/><rect x="535.5" y="123.9" width="2.8" height="2.8" fill="#0000ff"/><rect x="534.1" y="116.0" width="2.8" height="2.8" fill="#0000ff"/><rect x="534.4" y="123.5" width="2.8" height="2.8" fill="#0000ff"/><rect x="536.8" y="131.0" width="2.8" height="2.8" fill="#0000ff"/><rect x="536.2" y="136.6" width="2.8" height="2.8" fill="#0000ff"/><rect x="536.0" y="125.0" width="2.8" height="2.8" fill="#0000ff"/><rect x="537.2" y="132.3" width="2.8" height="2.8" fill="#0000ff"/><rect x="536.5" y="124.1" width="2.8" height="2.8" fill="#0000ff"/><rect x="537.8" y="132.5" width="2.8" height="2.8" fill="#0000ff"/><rect x="537.1" y="129.2" width="2.8" height="2.8" fill="#0000ff"/><rect x="538.0" y="133.9" width="2.8" height="2.8" fill="#0000ff"/><rect x="538.7" y="133.3" width="2.8" height="2.8" fill="#0000ff"/><rect x="539.0" y="138.3" width="2.8" height="2.8" fill="#0000ff"/><rect x="540.6" y="135.6" width="2.8" height="2.8" fill="#0000ff"/><rect x="540.6" y="134.1" width="2.8" height="2.8" fill="#0000ff"/><rect x="540.5" y="139.8" width="2.8" height="2.8" fill="#0000ff"/><rect x="541.9" y="137.5" width="2.8" height="2.8" fill="#0000ff"/><rect x="541.2" y="138.7" width="2.8" height="2.8" fill="#0000ff"/><rect x="540.6" y="137.1" width="2.8" height="2.8" fill="#0000ff"/><rect x="541.5" y="139.9" width="2.8" height="2.8" fill="#0000ff"/><rect x="541.6" y="130.9" width="2.8" height="2.8" fill="#0000ff"/><rect x="542.8" y="141.5" width="2.8" height="2.8" fill="#0000ff"/><rect x="542.8" y="143.9" width="2.8" height="2.8" fill="#0000ff"/><rect x="543.4" y="138.9" width="2.8" height="2.8" fill="#0000ff"/><rect x="544.3" y="137.2" width="2.8" height="2.8" fill="#0000ff"/><rect x="543.9" y="142.3" width="2.8" height="2.8" fill="#0000ff"/><rect x="545.4" y="145.3" width="2.8" height="2.8" fill="#0000ff"/><rect x="545.4" y="143.4" width="2.8" height="2.8" fill="#0000ff"/><rect x="545.8" y="153.4" width="2.8" height="2.8" fill="#0000ff"/><rect x="545.5" y="155.4" width="2.8" height="2.8" fill="#0000ff"/><rect x="545.9" y="147.3" width="2.8" height="2.8" fill="#0000ff"/><rect x="546.9" y="153.6" width="2.8" height="2.8" fill="#0000ff"/><rect x="546.3" y="140.0" width="2.8" height="2.8" fill="#0000ff"/><rect x="548.0" y="155.3" width="2.8" height="2.8" fill="#0000ff"/><rect x="548.4" y="163.4" width="2.8" height="2.8" fill="#0000ff"/><rect x="548.5" y="154.4" width="2.8" height="2.8" fill="#0000ff"/><rect x="549.4" y="157.1" width="2.8" height="2.8" fill="#0000ff"/><rect x="550.4" y="153.0" width="2.8" height="2.8" fill="#0000ff"/><rect x="549.3" y="141.9" width="2.8" height="2.8" fill="#0000ff"/><rect x="550.6" y="156.8" width="2.8" height="2.8" fill="#0000ff"/><rect x="551.0" y="167.8" width="2.8" height="2.8" fill="#0000ff"/><rect x="550.8" y="157.9" width="2.8" height="2.8" fill="#0000ff"/><rect x="550.8" y="155.7" width="2.8" height="2.8" fill="#0000ff"/><rect x="551.1" y="162.2" width="2.8" height="2.8" fill="#0000ff"/><rect x="552.0" y="162.0" width="2.8" height="2.8" fill="#0000ff"/><rect x="552.3" y="166.0" width="2.8" height="2.8" fill="#0000ff"/><rect x="553.1" y="163.9" width="2.8" height="2.8" fill="#0000ff"/><rect x="553.7" y="165.2" width="2.8" height="2.8" fill="#0000ff"/><rect x="552.8" y="169.3" width="2.8" height="2.8" fill="#0000ff"/><rect x="554.3" y="163.9" width="2.8" height="2.8" fill="#0000ff"/><rect x="555.1" y="171.3" width="2.8" height="2.8" fill="#0000ff"/><rect x="553.7" y="172.1" width="2.8" height="2.8" fill="#0000ff"/><rect x="555.4" y="174.2" width="2.8" height="2.8" fill="#0000ff"/><rect x="555.7" y="171.0" width="2.8" height="2.8" fill="#0000ff"/><rect x="554.9" y="173.0" width="2.8" height="2.8" fill="#0000ff"/><rect x="556.4" y="172.3" width="2.8" height="2.8" fill="#0000ff"/><rect x="557.0" y="175.5" width="2.8" height="2.8" fill="#0000ff"/><rect x="557.7" y="175.5" width="2.8" height="2.8" fill="#0000ff"/><rect x="557.6" y="168.3" width="2.8" height="2.8" fill="#0000ff"/><rect x="557.7" y="179.7" width="2.8" height="2.8" fill="#0000ff"/><rect x="559.3" y="180.3" width="2.8" height="2.8" fill="#0000ff"/><rect x="558.7" y="186.1" width="2.8" height="2.8" fill="#0000ff"/><rect x="558.9" y="183.5" width="2.8" height="2.8" fill="#0000ff"/><rect x="560.8" y="186.2" width="2.8" height="2.8" fill="#0000ff"/><rect x="560.8" y="183.5" width="2.8" height="2.8" fill="#0000ff"/><rect x="560.5" y="185.1" width="2.8" height="2.8" fill="#0000ff"/><rect x="560.9" y="190.8" width="2.8" height="2.8" fill="#0000ff"/><rect x="562.8" y="189.7" width="2.8" height="2.8" fill="#0000ff"/><rect x="561.2" y="189.3" width="2.8" height="2.8" fill="#0000ff"/><rect x="561.2" y="189.4" width="2.8" height="2.8" fill="#0000ff"/><rect x="562.8" y="191.0" width="2.8" height="2.8" fill="#0000ff"/><rect x="563.1" y="187.2" width="2.8" height="2.8" fill="#0000ff"/><rect x="563.7" y="188.8" width="2.8" height="2.8" fill="#0000ff"/><rect x="563.1" y="190.9" width="2.8" height="2.8" fill="#0000ff"/><rect x="563.7" y="198.1" width="2.8" height="2.8" fill="#0000ff"/><rect x="564.4" y="194.8" width="2.8" height="2.8" fill="#0000ff"/><rect x="565.1" y="204.1" width="2.8" height="2.8" fill="#0000ff"/><rect x="565.2" y="199.4" width="2.8" height="2.8" fill="#0000ff"/><rect x="566.4" y="201.8" width="2.8" height="2.8" fill="#0000ff"/><rect x="565.1" y="207.5" width="2.8" height="2.8" fill="#0000ff"/><rect x="567.9" y="196.2" width="2.8" height="2.8" fill="#0000ff"/><rect x="566.7" y="203.0" width="2.8" height="2.8" fill="#0000ff"/><rect x="567.8" y="206.4" width="2.8" height="2.8" fill="#0000ff"/><rect x="567.4" y="198.7" width="2.8" height="2.8" fill="#0000ff"/><rect x="568.0" y="208.2" width="2.8" height="2.8" fill="#0000ff"/><rect x="567.6" y="199.3" width="2.8" height="2.8" fill="#0000ff"/><rect x="568.7" y="198.2" width="2.8" height="2.8" fill="#0000ff"/><rect x="569.0" y="204.6" width="2.8" height="2.8" fill="#0000ff"/><rect x="569.9" y="204.9" width="2.8" height="2.8" fill="#0000ff"/><rect x="569.3" y="205.5" width="2.8" height="2.8" fill="#0000ff"/><rect x="570.3" y="205.0" width="2.8" height="2.8" fill="#0000ff"/><rect x="570.8" y="210.5" width="2.8" height="2.8" fill="#0000ff"/><rect x="572.0" y="214.2" width="2.8" height="2.8" fill="#0000ff"/><rect x="571.0" y="206.0" width="2.8" height="2.8" fill="#0000ff"/><rect x="570.2" y="215.0" width="2.8" height="2.8" fill="#0000ff"/><rect x="571.9" y="207.5" width="2.8" height="2.8" fill="#0000ff"/><rect x="573.1" y="202.3" width="2.8" height="2.8" fill="#0000ff"/><rect x="573.5" y="207.5" width="2.8" height="2.8" fill="#0000ff"/><rect x="572.3" y="208.7" width="2.8" height="2.8" fill="#0000ff"/><rect x="574.8" y="198.8" width="2.8" height="2.8" fill="#0000ff"/><rect x="574.9" y="206.8" width="2.8" height="2.8" fill="#0000ff"/><rect x="575.1" y="207.5" width="2.8" height="2.8" fill="#0000ff"/><rect x="576.1" y="203.6" width="2.8" height="2.8" fill="#0000ff"/><rect x="576.2" y="202.8" width="2.8" height="2.8" fill="#0000ff"/><rect x="576.5" y="200.8" width="2.8" height="2.8" fill="#0000ff"/><rect x="576.3" y="211.0" width="2.8" height="2.8" fill="#0000ff"/><rect x="577.1" y="202.7" width="2.8" height="2.8" fill="#0000ff"/><rect x="576.3" y="201.1" width="2.8" height="2.8" fill="#0000ff"/><rect x="577.7" y="206.1" width="2.8" height="2.8" fill="#0000ff"/><rect x="578.2" y="203.2" width="2.8" height="2.8" fill="#0000ff"/><rect x="578.3" y="206.3" width="2.8" height="2.8" fill="#0000ff"/><rect x="578.5" y="198.5" width="2.8" height="2.8" fill="#0000ff"/><rect x="579.8" y="198.1" width="2.8" height="2.8" fill="#0000ff"/><rect x="579.4" y="196.5" width="2.8" height="2.8" fill="#0000ff"/><rect x="579.8" y="200.3" width="2.8" height="2.8" fill="#0000ff"/><rect x="580.6" y="191.3" width="2.8" height="2.8" fill="#0000ff"/><rect x="581.0" y="195.7" width="2.8" height="2.8" fill="#0000ff"/><rect x="580.4" y="199.4" width="2.8" height="2.8" fill="#0000ff"/><rect x="581.3" y="193.0" width="2.8" height="2.8" fill="#0000ff"/><rect x="582.5" y="197.0" width="2.8" height="2.8" fill="#0000ff"/><rect x="581.9" y="194.9" width="2.8" height="2.8" fill="#0000ff"/><rect x="582.1" y="201.7" width="2.8" height="2.8" fill="#0000ff"/><rect x="582.8" y="195.7" width="2.8" height="2.8" fill="#0000ff"/><rect x="583.1" y="193.4" width="2.8" height="2.8" fill="#0000ff"/><rect x="585.5" y="173.7" width="2.8" height="2.8" fill="#0000ff"/><rect x="584.0" y="189.6" width="2.8" height="2.8" fill="#0000ff"/><rect x="584.7" y="183.3" width="2.8" height="2.8" fill="#0000ff"/><rect x="586.6" y="180.8" width="2.8" height="2.8" fill="#0000ff"/><rect x="584.4" y="190.0" width="2.8" height="2.8" fill="#0000ff"/><rect x="584.7" y="190.2" width="2.8" height="2.8" fill="#0000ff"/><rect x="585.9" y="183.0" width="2.8" height="2.8" fill="#0000ff"/><rect x="587.6" y="178.0" width="2.8" height="2.8" fill="#0000ff"/><rect x="586.2" y="175.2" width="2.8" height="2.8" fill="#0000ff"/><rect x="588.4" y="178.2" width="2.8" height="2.8" fill="#0000ff"/><rect x="587.4" y="181.7" width="2.8" height="2.8" fill="#0000ff"/><rect x="588.7" y="176.9" width="2.8" height="2.8" fill="#0000ff"/><rect x="587.2" y="177.8" width="2.8" height="2.8" fill="#0000ff"/><rect x="589.8" y="174.0" width="2.8" height="2.8" fill="#0000ff"/><rect x="590.2" y="160.4" width="2.8" height="2.8" fill="#0000ff"/><rect x="590.1" y="172.2" width="2.8" height="2.8" fill="#0000ff"/><rect x="592.1" y="159.9" width="2.8" height="2.8" fill="#0000ff"/><rect x="590.5" y="169.0" width="2.8" height="2.8" fill="#0000ff"/><rect x="591.8" y="163.1" width="2.8" height="2.8" fill="#0000ff"/><rect x="592.3" y="159.9" width="2.8" height="2.8" fill="#0000ff"/><rect x="592.1" y="161.6" width="2.8" height="2.8" fill="#0000ff"/><rect x="592.4" y="159.9" width="2.8" height="2.8" fill="#0000ff"/><rect x="591.6" y="169.6" width="2.8" height="2.8" fill="#0000ff"/><rect x="593.3" y="157.5" width="2.8" height="2.8" fill="#0000ff"/><rect x="593.7" y="162.5" width="2.8" height="2.8" fill="#0000ff"/><rect x="593.2" y="159.6" width="2.8" height="2.8" fill="#0000ff"/><rect x="594.7" y="157.4" width="2.8" height="2.8" fill="#0000ff"/><rect x="594.5" y="147.7" width="2.8" height="2.8" fill="#0000ff"/><rect x="596.0" y="153.0" width="2.8" height="2.8" fill="#0000ff"/><rect x="595.5" y="151.9" width="2.8" height="2.8" fill="#0000ff"/><rect x="596.1" y="149.8" width="2.8" height="2.8" fill="#0000ff"/><rect x="595.6" y="149.9" width="2.8" height="2.8" fill="#0000ff"/><rect x="596.3" y="148.5" width="2.8" height="2.8" fill="#0000ff"/><rect x="596.3" y="153.4" width="2.8" height="2.8" fill="#0000ff"/><rect x="596.6" y="152.7" width="2.8" height="2.8" fill="#0000ff"/><rect x="597.2" y="149.8" width="2.8" height="2.8" fill="#0000ff"/><rect x="599.3" y="144.2" width="2.8" height="2.8" fill="#0000ff"/><rect x="598.2" y="145.9" width="2.8" height="2.8" fill="#0000ff"/><rect x="599.2" y="136.7" width="2.8" height="2.8" fill="#0000ff"/><rect x="599.1" y="144.3" width="2.8" height="2.8" fill="#0000ff"/><rect x="599.6" y="143.1" width="2.8" height="2.8" fill="#0000ff"/><rect x="600.8" y="143.6" width="2.8" height="2.8" fill="#0000ff"/><rect x="601.4" y="141.9" width="2.8" height="2.8" fill="#0000ff"/><rect x="600.9" y="140.4" width="2.8" height="2.8" fill="#0000ff"/><rect x="601.3" y="138.5" width="2.8" height="2.8" fill="#0000ff"/><rect x="601.8" y="132.1" width="2.8" height="2.8" fill="#0000ff"/><rect x="602.1" y="138.2" width="2.8" height="2.8" fill="#0000ff"/><rect x="602.0" y="138.3" width="2.8" height="2.8" fill="#0000ff"/><rect x="603.5" y="135.2" width="2.8" height="2.8" fill="#0000ff"/><rect x="605.0" y="124.1" width="2.8" height="2.8" fill="#0000ff"/><rect x="603.8" y="128.3" width="2.8" height="2.8" fill="#0000ff"/><rect x="605.0" y="144.6" width="2.8" height="2.8" fill="#0000ff"/><rect x="603.0" y="137.3" width="2.8" height="2.8" fill="#0000ff"/><rect x="605.5" y="132.5" width="2.8" height="2.8" fill="#0000ff"/><rect x="605.9" y="124.6" width="2.8" height="2.8" fill="#0000ff"/><rect x="606.5" y="134.1" width="2.8" height="2.8" fill="#0000ff"/><rect x="606.3" y="130.6" width="2.8" height="2.8" fill="#0000ff"/><rect x="607.2" y="130.2" width="2.8" height="2.8" fill="#0000ff"/><rect x="607.3" y="129.9" width="2.8" height="2.8" fill="#0000ff"/><rect x="605.9" y="133.1" width="2.8" height="2.8" fill="#0000ff"/><rect x="608.0" y="134.1" width="2.8" height="2.8" fill="#0000ff"/><rect x="607.7" y="131.4" width="2.8" height="2.8" fill="#0000ff"/><rect x="609.1" y="131.0" width="2.8" height="2.8" fill="#0000ff"/><rect x="610.0" y="137.9" width="2.8" height="2.8" fill="#0000ff"/><rect x="608.9" y="123.0" width="2.8" height="2.8" fill="#0000ff"/><rect x="610.5" y="135.9" width="2.8" height="2.8" fill="#0000ff"/><rect x="610.9" y="133.0" width="2.8" height="2.8" fill="#0000ff"/><rect x="610.3" y="127.3" width="2.8" height="2.8" fill="#0000ff"/><rect x="611.7" y="126.0" width="2.8" height="2.8" fill="#0000ff"/><rect x="610.2" y="126.2" width="2.8" height="2.8" fill="#0000ff"/><rect x="613.6" y="136.4" width="2.8" height="2.8" fill="#0000ff"/><rect x="611.8" y="126.7" width="2.8" height="2.8" fill="#0000ff"/><rect x="612.9" y="126.3" width="2.8" height="2.8" fill="#0000ff"/><rect x="614.0" y="128.5" width="2.8" height="2.8" fill="#0000ff"/><rect x="612.7" y="134.3" width="2.8" height="2.8" fill="#0000ff"/><rect x="613.5" y="129.8" width="2.8" height="2.8" fill="#0000ff"/><rect x="614.3" y="127.5" width="2.8" height="2.8" fill="#0000ff"/><rect x="614.9" y="125.9" width="2.8" height="2.8" fill="#0000ff"/><rect x="613.8" y="120.3" width="2.8" height="2.8" fill="#0000ff"/><rect x="614.6" y="125.6" width="2.8" height="2.8" fill="#0000ff"/><rect x="615.9" y="128.8" width="2.8" height="2.8" fill="#0000ff"/><rect x="616.7" y="129.1" width="2.8" height="2.8" fill="#0000ff"/><rect x="616.1" y="125.8" width="2.8" height="2.8" fill="#0000ff"/><rect x="615.6" y="127.9" width="2.8" height="2.8" fill="#0000ff"/><rect x="617.8" y="130.7" width="2.8" height="2.8" fill="#0000ff"/><rect x="617.8" y="127.9" width="2.8" height="2.8" fill="#0000ff"/><rect x="618.9" y="128.7" width="2.8" height="2.8" fill="#0000ff"/><rect x="619.2" y="130.9" width="2.8" height="2.8" fill="#0000ff"/><rect x="619.2" y="133.7" width="2.8" height="2.8" fill="#0000ff"/><rect x="619.1" y="127.2" width="2.8" height="2.8" fill="#0000ff"/><rect x="619.3" y="125.5" width="2.8" height="2.8" fill="#0000ff"/><rect x="621.4" y="135.5" width="2.8" height="2.8" fill="#0000ff"/><rect x="620.7" y="130.8" width="2.8" height="2.8" fill="#0000ff"/><rect x="621.9" y="131.7" width="2.8" height="2.8" fill="#0000ff"/><rect x="622.3" y="123.7" width="2.8" height="2.8" fill="#0000ff"/><rect x="621.4" y="130.4" width="2.8" height="2.8" fill="#0000ff"/><rect x="623.3" y="129.0" width="2.8" height="2.8" fill="#0000ff"/><rect x="622.1" y="127.2" width="2.8" height="2.8" fill="#0000ff"/><rect x="622.6" y="125.3" width="2.8" height="2.8" fill="#0000ff"/><rect x="624.5" y="126.2" width="2.8" height="2.8" fill="#0000ff"/><rect x="623.9" y="137.0" width="2.8" height="2.8" fill="#0000ff"/><rect x="625.1" y="130.1" width="2.8" height="2.8" fill="#0000ff"/><rect x="624.3" y="130.2" width="2.8" height="2.8" fill="#0000ff"/><rect x="626.2" y="131.6" width="2.8" height="2.8" fill="#0000ff"/><rect x="626.4" y="129.6" width="2.8" height="2.8" fill="#0000ff"/><rect x="626.2" y="128.4" width="2.8" height="2.8" fill="#0000ff"/><rect x="626.6" y="134.3" width="2.8" height="2.8" fill="#0000ff"/><rect x="625.7" y="128.7" width="2.8" height="2.8" fill="#0000ff"/><rect x="627.2" y="127.3" width="2.8" height="2.8" fill="#0000ff"/><rect x="627.3" y="132.6" width="2.8" height="2.8" fill="#0000ff"/><rect x="629.3" y="132.6" width="2.8" height="2.8" fill="#0000ff"/><rect x="628.5" y="123.9" width="2.8" height="2.8" fill="#0000ff"/><rect x="630.0" y="130.7" width="2.8" height="2.8" fill="#0000ff"/><rect x="629.1" y="125.7" width="2.8" height="2.8" fill="#0000ff"/><rect x="629.4" y="125.9" width="2.8" height="2.8" fill="#0000ff"/><rect x="629.9" y="132.2" width="2.8" height="2.8" fill="#0000ff"/><rect x="630.3" y="131.6" width="2.8" height="2.8" fill="#0000ff"/><rect x="630.1" y="136.0" width="2.8" height="2.8" fill="#0000ff"/><rect x="630.6" y="123.5" width="2.8" height="2.8" fill="#0000ff"/><rect x="631.3" y="127.9" width="2.8" height="2.8" fill="#0000ff"/><rect x="631.2" y="129.4" width="2.8" height="2.8" fill="#0000ff"/><rect x="632.5" y="126.6" width="2.8" height="2.8" fill="#0000ff"/><rect x="632.6" y="136.8" width="2.8" height="2.8" fill="#0000ff"/><rect x="633.5" y="131.0" width="2.8" height="2.8" fill="#0000ff"/><rect x="633.6" y="131.1" width="2.8" height="2.8" fill="#0000ff"/><rect x="633.8" y="134.5" width="2.8" height="2.8" fill="#0000ff"/><rect x="634.2" y="122.4" width="2.8" height="2.8" fill="#0000ff"/><rect x="634.7" y="128.5" width="2.8" height="2.8" fill="#0000ff"/><rect x="635.5" y="129.9" width="2.8" height="2.8" fill="#0000ff"/><rect x="635.6" y="140.7" width="2.8" height="2.8" fill="#0000ff"/><rect x="635.1" y="127.7" width="2.8" height="2.8" fill="#0000ff"/><rect x="635.3" y="122.8" width="2.8" height="2.8" fill="#0000ff"/><rect x="635.4" y="133.6" width="2.8" height="2.8" fill="#0000ff"/><rect x="636.6" y="125.3" width="2.8" height="2.8" fill="#0000ff"/><rect x="636.4" y="134.9" width="2.8" height="2.8" fill="#0000ff"/><rect x="637.3" y="131.5" width="2.8" height="2.8" fill="#0000ff"/><rect x="638.5" y="138.7" width="2.8" height="2.8" fill="#0000ff"/><rect x="640.0" y="138.1" width="2.8" height="2.8" fill="#0000ff"/><rect x="639.2" y="134.4" width="2.8" height="2.8" fill="#0000ff"/><rect x="640.7" y="139.9" width="2.8" height="2.8" fill="#0000ff"/><rect x="639.6" y="135.7" width="2.8" height="2.8" fill="#0000ff"/><rect x="640.5" y="134.4" width="2.8" height="2.8" fill="#0000ff"/><rect x="640.3" y="129.0" width="2.8" height="2.8" fill="#0000ff"/><rect x="640.7" y="128.3" width="2.8" height="2.8" fill="#0000ff"/><rect x="642.3" y="137.1" width="2.8" height="2.8" fill="#0000ff"/><rect x="641.0" y="139.9" width="2.8" height="2.8" fill="#0000ff"/><rect x="642.9" y="127.8" width="2.8" height="2.8" fill="#0000ff"/><rect x="643.9" y="138.8" width="2.8" height="2.8" fill="#0000ff"/><rect x="644.5" y="131.1" width="2.8" height="2.8" fill="#0000ff"/><rect x="643.8" y="137.3" width="2.8" height="2.8" fill="#0000ff"/><rect x="644.0" y="136.3" width="2.8" height="2.8" fill="#0000ff"/><rect x="645.0" y="130.3" width="2.8" height="2.8" fill="#0000ff"/><rect x="643.8" y="130.2" width="2.8" height="2.8" fill="#0000ff"/><rect x="644.7" y="133.6" width="2.8" height="2.8" fill="#0000ff"/><rect x="645.7" y="137.4" width="2.8" height="2.8" fill="#0000ff"/><rect x="645.9" y="133.8" width="2.8" height="2.8" fill="#0000ff"/><rect x="645.9" y="140.2" width="2.8" height="2.8" fill="#0000ff"/><rect x="647.2" y="137.4" width="2.8" height="2.8" fill="#0000ff"/><rect x="646.8" y="142.9" width="2.8" height="2.8" fill="#0000ff"/><rect x="647.0" y="139.5" width="2.8" height="2.8" fill="#0000ff"/><rect x="648.7" y="136.6" width="2.8" height="2.8" fill="#0000ff"/><rect x="648.8" y="133.3" width="2.8" height="2.8" fill="#0000ff"/><rect x="649.4" y="138.7" width="2.8" height="2.8" fill="#0000ff"/><rect x="647.9" y="139.9" width="2.8" height="2.8" fill="#0000ff"/><rect x="648.8" y="142.7" width="2.8" height="2.8" fill="#0000ff"/><rect x="649.4" y="137.3" width="2.8" height="2.8" fill="#0000ff"/><rect x="650.4" y="137.1" width="2.8" height="2.8" fill="#0000ff"/><rect x="650.8" y="136.4" width="2.8" height="2.8" fill="#0000ff"/><rect x="651.5" y="138.8" width="2.8" height="2.8" fill="#0000ff"/><rect x="651.6" y="128.1" width="2.8" height="2.8" fill="#0000ff"/><rect x="652.7" y="139.4" width="2.8" height="2.8" fill="#0000ff"/><rect x="651.0" y="139.0" width="2.8" height="2.8" fill="#0000ff"/><rect x="653.0" y="143.6" width="2.8" height="2.8" fill="#0000ff"/><rect x="652.3" y="145.2" width="2.8" height="2.8" fill="#0000ff"/><rect x="653.3" y="148.9" width="2.8" height="2.8" fill="#0000ff"/><rect x="653.7" y="142.4" width="2.8" height="2.8" fill="#0000ff"/><rect x="654.0" y="135.5" width="2.8" height="2.8" fill="#0000ff"/><rect x="655.4" y="144.0" width="2.8" height="2.8" fill="#0000ff"/><rect x="656.1" y="144.1" width="2.8" height="2.8" fill="#0000ff"/><rect x="655.0" y="133.8" width="2.8" height="2.8" fill="#0000ff"/><rect x="655.4" y="137.8" width="2.8" height="2.8" fill="#0000ff"/><rect x="655.7" y="142.8" width="2.8" height="2.8" fill="#0000ff"/><rect x="656.9" y="140.0" width="2.8" height="2.8" fill="#0000ff"/><rect x="657.2" y="140.6" width="2.8" height="2.8" fill="#0000ff"/><rect x="657.6" y="144.3" width="2.8" height="2.8" fill="#0000ff"/><rect x="658.5" y="139.1" width="2.8" height="2.8" fill="#0000ff"/><rect x="657.2" y="146.7" width="2.8" height="2.8" fill="#0000ff"/><rect x="658.7" y="146.1" width="2.8" height="2.8" fill="#0000ff"/><rect x="657.9" y="140.2" width="2.8" height="2.8" fill="#0000ff"/><rect x="659.5" y="136.5" width="2.8" height="2.8" fill="#0000ff"/><rect x="659.5" y="145.0" width="2.8" height="2.8" fill="#0000ff"/><rect x="661.0" y="148.9" width="2.8" height="2.8" fill="#0000ff"/><rect x="660.0" y="136.9" width="2.8" height="2.8" fill="#0000ff"/><rect x="661.4" y="146.4" width="2.8" height="2.8" fill="#0000ff"/><rect x="661.6" y="137.7" width="2.8" height="2.8" fill="#0000ff"/><rect x="662.4" y="145.9" width="2.8" height="2.8" fill="#0000ff"/><rect x="662.6" y="141.0" width="2.8" height="2.8" fill="#0000ff"/><rect x="662.8" y="146.0" width="2.8" height="2.8" fill="#0000ff"/><rect x="662.6" y="135.7" width="2.8" height="2.8" fill="#0000ff"/><rect x="663.7" y="144.9" width="2.8" height="2.8" fill="#0000ff"/><rect x="663.8" y="146.5" width="2.8" height="2.8" fill="#0000ff"/><rect x="663.8" y="142.7" width="2.8" height="2.8" fill="#0000ff"/><rect x="664.4" y="145.4" width="2.8" height="2.8" fill="#0000ff"/><rect x="666.1" y="142.4" width="2.8" height="2.8" fill="#0000ff"/><rect x="666.9" y="149.5" width="2.8" height="2.8" fill="#0000ff"/><rect x="666.4" y="145.7" width="2.8" height="2.8" fill="#0000ff"/><rect x="667.5" y="142.9" width="2.8" height="2.8" fill="#0000ff"/><rect x="666.5" y="139.3" width="2.8" height="2.8" fill="#0000ff"/><rect x="667.4" y="148.8" width="2.8" height="2.8" fill="#0000ff"/><rect x="667.8" y="145.3" width="2.8" height="2.8" fill="#0000ff"/><rect x="667.7" y="144.3" width="2.8" height="2.8" fill="#0000ff"/><rect x="667.2" y="147.6" width="2.8" height="2.8" fill="#0000ff"/><rect x="668.3" y="139.4" width="2.8" height="2.8" fill="#0000ff"/><rect x="668.5" y="140.5" width="2.8" height="2.8" fill="#0000ff"/><rect x="670.0" y="148.1" width="2.8" height="2.8" fill="#0000ff"/><rect x="668.9" y="147.4" width="2.8" height="2.8" fill="#0000ff"/><rect x="670.8" y="141.8" width="2.8" height="2.8" fill="#0000ff"/><rect x="669.6" y="141.0" width="2.8" height="2.8" fill="#0000ff"/><rect x="670.6" y="145.4" width="2.8" height="2.8" fill="#0000ff"/><rect x="671.2" y="136.2" width="2.8" height="2.8" fill="#0000ff"/><rect x="672.0" y="138.2" width="2.8" height="2.8" fill="#0000ff"/><rect x="672.8" y="139.6" width="2.8" height="2.8" fill="#0000ff"/><rect x="672.1" y="140.9" width="2.8" height="2.8" fill="#0000ff"/><rect x="672.6" y="149.4" width="2.8" height="2.8" fill="#0000ff"/><rect x="674.0" y="146.9" width="2.8" height="2.8" fill="#0000ff"/><rect x="674.0" y="138.5" width="2.8" height="2.8" fill="#0000ff"/><rect x="673.8" y="142.3" width="2.8" height="2.8" fill="#0000ff"/><rect x="673.9" y="146.5" width="2.8" height="2.8" fill="#0000ff"/><rect x="674.5" y="141.8" width="2.8" height="2.8" fill="#0000ff"/><rect x="674.7" y="136.6" width="2.8" height="2.8" fill="#0000ff"/><rect x="676.2" y="150.4" width="2.8" height="2.8" fill="#0000ff"/><rect x="676.3" y="141.4" width="2.8" height="2.8" fill="#0000ff"/><rect x="674.7" y="145.3" width="2.8" height="2.8" fill="#0000ff"/><rect x="677.9" y="147.0" width="2.8" height="2.8" fill="#0000ff"/><rect x="678.1" y="151.7" width="2.8" height="2.8" fill="#0000ff"/><rect x="678.6" y="144.4" width="2.8" height="2.8" fill="#0000ff"/><rect x="678.9" y="149.3" width="2.8" height="2.8" fill="#0000ff"/><rect x="677.5" y="144.1" width="2.8" height="2.8" fill="#0000ff"/><rect x="678.0" y="145.5" width="2.8" height="2.8" fill="#0000ff"/><rect x="679.8" y="142.4" width="2.8" height="2.8" fill="#0000ff"/><rect x="678.4" y="151.1" width="2.8" height="2.8" fill="#0000ff"/><rect x="680.5" y="152.5" width="2.8" height="2.8" fill="#0000ff"/><rect x="679.7" y="150.6" width="2.8" height="2.8" fill="#0000ff"/><rect x="682.5" y="155.4" width="2.8" height="2.8" fill="#0000ff"/><rect x="681.3" y="148.1" width="2.8" height="2.8" fill="#0000ff"/><rect x="681.7" y="151.2" width="2.8" height="2.8" fill="#0000ff"/><rect x="682.8" y="147.9" width="2.8" height="2.8" fill="#0000ff"/><rect x="681.6" y="150.1" width="2.8" height="2.8" fill="#0000ff"/></svg><rect x="404.5" y="28.0" width="280.1" height="225.4" fill="none" stroke="#555" stroke-width="1"/><line x1="404.1875" y1="28.0" x2="404.1875" y2="30.0" stroke="#555" stroke-width="0.8"/><line x1="404.1875" y1="253.4" x2="404.1875" y2="251.4" stroke="#555" stroke-width="0.8"/><line x1="432.25" y1="28.0" x2="432.25" y2="31.0" stroke="#555" stroke-width="0.8"/><line x1="432.25" y1="253.4" x2="432.25" y2="250.4" stroke="#555" stroke-width="0.8"/><line x1="460.3125" y1="28.0" x2="460.3125" y2="30.0" stroke="#555" stroke-width="0.8"/><line x1="460.3125" y1="253.4" x2="460.3125" y2="251.4" stroke="#555" stroke-width="0.8"/><line x1="488.375" y1="28.0" x2="488.375" y2="31.0" stroke="#555" stroke-width="0.8"/><line x1="488.375" y1="253.4" x2="488.375" y2="250.4" stroke="#555" stroke-width="0.8"/><line x1="516.4375" y1="28.0" x2="516.4375" y2="30.0" stroke="#555" stroke-width="0.8"/><line x1="516.4375" y1="253.4" x2="516.4375" y2="251.4" stroke="#555" stroke-width="0.8"/><line x1="544.5" y1="28.0" x2="544.5" y2="31.0" stroke="#555" stroke-width="0.8"/><line x1="544.5" y1="253.4" x2="544.5" y2="250.4" stroke="#555" stroke-width="0.8"/><line x1="572.5625" y1="28.0" x2="572.5625" y2="30.0" stroke="#555" stroke-width="0.8"/><line x1="572.5625" y1="253.4" x2="572.5625" y2="251.4" stroke="#555" stroke-width="0.8"/><line x1="600.625" y1="28.0" x2="600.625" y2="31.0" stroke="#555" stroke-width="0.8"/><line x1="600.625" y1="253.4" x2="600.625" y2="250.4" stroke="#555" stroke-width="0.8"/><line x1="628.6875" y1="28.0" x2="628.6875" y2="30.0" stroke="#555" stroke-width="0.8"/><line x1="628.6875" y1="253.4" x2="628.6875" y2="251.4" stroke="#555" stroke-width="0.8"/><line x1="656.75" y1="28.0" x2="656.75" y2="31.0" stroke="#555" stroke-width="0.8"/><line x1="656.75" y1="253.4" x2="656.75" y2="250.4" stroke="#555" stroke-width="0.8"/><line x1="684.8125" y1="28.0" x2="684.8125" y2="30.0" stroke="#555" stroke-width="0.8"/><line x1="684.8125" y1="253.4" x2="684.8125" y2="251.4" stroke="#555" stroke-width="0.8"/><line x1="404.5" y1="252.75" x2="407.0" y2="252.75" stroke="#555" stroke-width="0.8"/><line x1="684.6" y1="252.75" x2="682.1" y2="252.75" stroke="#555" stroke-width="0.8"/><line x1="404.5" y1="215.3" x2="407.0" y2="215.3" stroke="#555" stroke-width="0.8"/><line x1="684.6" y1="215.3" x2="682.1" y2="215.3" stroke="#555" stroke-width="0.8"/><line x1="404.5" y1="177.85000000000002" x2="407.0" y2="177.85000000000002" stroke="#555" stroke-width="0.8"/><line x1="684.6" y1="177.85000000000002" x2="682.1" y2="177.85000000000002" stroke="#555" stroke-width="0.8"/><line x1="404.5" y1="140.4" x2="407.0" y2="140.4" stroke="#555" stroke-width="0.8"/><line x1="684.6" y1="140.4" x2="682.1" y2="140.4" stroke="#555" stroke-width="0.8"/><line x1="404.5" y1="102.95" x2="407.0" y2="102.95" stroke="#555" stroke-width="0.8"/><line x1="684.6" y1="102.95" x2="682.1" y2="102.95" stroke="#555" stroke-width="0.8"/><line x1="404.5" y1="65.5" x2="407.0" y2="65.5" stroke="#555" stroke-width="0.8"/><line x1="684.6" y1="65.5" x2="682.1" y2="65.5" stroke="#555" stroke-width="0.8"/><line x1="404.5" y1="28.049999999999997" x2="407.0" y2="28.049999999999997" stroke="#555" stroke-width="0.8"/><line x1="684.6" y1="28.049999999999997" x2="682.1" y2="28.049999999999997" stroke="#555" stroke-width="0.8"/><text x="432.25" y="267.3" text-anchor="middle" style="font-family:'Liberation Serif',serif;font-size:13.5px" fill="#000">-1.0</text><text x="488.375" y="267.3" text-anchor="middle" style="font-family:'Liberation Serif',serif;font-size:13.5px" fill="#000">-0.5</text><text x="544.5" y="267.3" text-anchor="middle" style="font-family:'Liberation Serif',serif;font-size:13.5px" fill="#000">0.0</text><text x="600.625" y="267.3" text-anchor="middle" style="font-family:'Liberation Serif',serif;font-size:13.5px" fill="#000">0.5</text><text x="656.75" y="267.3" text-anchor="middle" style="font-family:'Liberation Serif',serif;font-size:13.5px" fill="#000">1.0</text><text x="400" y="70.2" text-anchor="end" style="font-family:'Liberation Serif',serif;font-size:14px" fill="#000">1</text><text x="400" y="145.1" text-anchor="end" style="font-family:'Liberation Serif',serif;font-size:14px" fill="#000">0</text><text x="400" y="220.0" text-anchor="end" style="font-family:'Liberation Serif',serif;font-size:14px" fill="#000">-1</text><text x="544" y="285" text-anchor="middle" style="font-family:'Liberation Serif',serif;font-size:19px" fill="#000">&#x3d5;/&#x3d5;<tspan dy="3" font-size="13px">0</tspan></text><g transform="translate(385.4,144) rotate(-90)"><text x="0" y="0" text-anchor="middle" style="font-family:'Liberation Serif',serif;font-size:19px" fill="#000">&#x394;I/&#x394;I<tspan dy="5.5" font-size="12.5px">max</tspan></text></g><defs><clipPath id="blk"><polygon points="416,43.2 439.8,38.2 445.6,82.4 416,84.6"/><polygon points="442.8,37.2 471.1,35.9 471.1,76.6 449.8,80.6"/></clipPath><linearGradient id="g1" x1="0" y1="0" x2="1" y2="1"><stop offset="0" stop-color="#a6560f"/><stop offset="0.5" stop-color="#a45410"/><stop offset="1" stop-color="#a85e12"/></linearGradient><filter id="bl" x="-5%" y="-5%" width="110%" height="110%"><feGaussianBlur stdDeviation="1.0"/></filter><linearGradient id="g2" x1="0" y1="0" x2="1" y2="0"><stop offset="0" stop-color="#9e6612"/><stop offset="0.5" stop-color="#9c6a12"/><stop offset="1" stop-color="#967014"/></linearGradient></defs><rect x="413.6" y="32.8" width="59.5" height="54.8" fill="#0000ff"/><rect x="416" y="35.9" width="55.1" height="48.7" fill="#bcb818"/><g clip-path="url(#blk)"><rect x="416" y="35.9" width="55.1" height="48.7" fill="url(#g1)"/><g filter="url(#bl)"><rect x="416.0" y="35" width="2.0" height="50" fill="#922e10" opacity="0.52"/><rect x="420.4" y="35" width="2.7" height="50" fill="#922e10" opacity="0.55"/><rect x="424.8" y="35" width="1.5" height="50" fill="#922e10" opacity="0.63"/><rect x="428.4" y="35" width="2.0" height="50" fill="#922e10" opacity="0.70"/><rect x="433.1" y="35" width="3.2" height="50" fill="#922e10" opacity="0.49"/><rect x="439.4" y="35" width="1.8" height="50" fill="#922e10" opacity="0.55"/><rect x="444.8" y="35" width="2.5" height="50" fill="#922e10" opacity="0.60"/><rect x="450.6" y="35" width="1.6" height="50" fill="#922e10" opacity="0.60"/><rect x="455.2" y="35" width="2.1" height="50" fill="#922e10" opacity="0.31"/><rect x="460.9" y="35" width="2.4" height="50" fill="#922e10" opacity="0.59"/><rect x="467.1" y="35" width="2.9" height="50" fill="#922e10" opacity="0.67"/></g></g><text x="416.8" y="75.6" style="font-family:'Liberation Serif',serif;font-size:8.6px" fill="#fff">1<tspan style="font-style:italic">&#x3bc;m</tspan></text><rect x="417" y="77.4" width="14.2" height="1.4" fill="#fff"/><rect x="597.6" y="191.8" width="61.1" height="55" fill="#ff0000"/><rect x="599.8" y="194.6" width="56.7" height="49.6" fill="url(#g2)"/><polygon points="618.2,194.6 627.8,194.6 626.2,200 626,205.5 622.2,205.5 621.4,200" fill="#aa9a22"/><polygon points="626.4,231.5 631.4,231.5 632.4,237 634.4,244.2 624.2,244.2 625.6,237" fill="#aa9a22"/><ellipse cx="626.8" cy="219" rx="14.6" ry="13.4" fill="none" stroke="#aa9a22" stroke-width="1.6"/><path d="M631,208 A11,11 0 0 1 636,228" fill="none" stroke="#aa9a22" stroke-width="0.7" stroke-dasharray="1.5,1.2" opacity="0.6"/><text x="601.3" y="238.3" style="font-family:'Liberation Serif',serif;font-size:8.4px" fill="#fff">1<tspan style="font-style:italic">&#x3bc;m</tspan></text><rect x="601.2" y="239.8" width="16" height="1.4" fill="#fff"/></svg></body></html>
